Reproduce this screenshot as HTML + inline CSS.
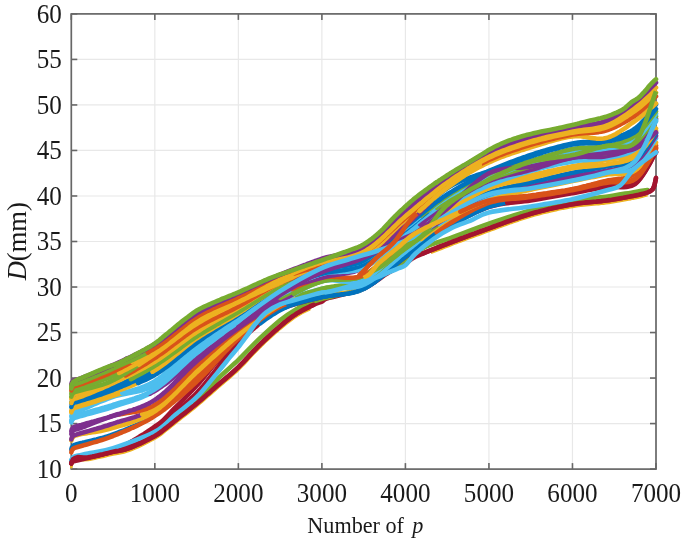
<!DOCTYPE html>
<html><head><meta charset="utf-8"><style>
html,body{margin:0;padding:0;background:#fff;width:685px;height:542px;overflow:hidden}
svg{display:block;font-family:"Liberation Serif",serif;filter:blur(0.4px)}
</style></head><body><svg width="685" height="542" viewBox="0 0 685 542"><g stroke="#e8e8e8" stroke-width="1.2"><line x1="154.83" y1="13.90" x2="154.83" y2="469.10"/><line x1="238.36" y1="13.90" x2="238.36" y2="469.10"/><line x1="321.89" y1="13.90" x2="321.89" y2="469.10"/><line x1="405.41" y1="13.90" x2="405.41" y2="469.10"/><line x1="488.94" y1="13.90" x2="488.94" y2="469.10"/><line x1="572.47" y1="13.90" x2="572.47" y2="469.10"/><line x1="71.30" y1="423.58" x2="656.00" y2="423.58"/><line x1="71.30" y1="378.06" x2="656.00" y2="378.06"/><line x1="71.30" y1="332.54" x2="656.00" y2="332.54"/><line x1="71.30" y1="287.02" x2="656.00" y2="287.02"/><line x1="71.30" y1="241.50" x2="656.00" y2="241.50"/><line x1="71.30" y1="195.98" x2="656.00" y2="195.98"/><line x1="71.30" y1="150.46" x2="656.00" y2="150.46"/><line x1="71.30" y1="104.94" x2="656.00" y2="104.94"/><line x1="71.30" y1="59.42" x2="656.00" y2="59.42"/></g><g stroke="#676767" stroke-width="1.6"><line x1="71.30" y1="469.10" x2="71.30" y2="463.10"/><line x1="71.30" y1="13.90" x2="71.30" y2="19.90"/><line x1="154.83" y1="469.10" x2="154.83" y2="463.10"/><line x1="154.83" y1="13.90" x2="154.83" y2="19.90"/><line x1="238.36" y1="469.10" x2="238.36" y2="463.10"/><line x1="238.36" y1="13.90" x2="238.36" y2="19.90"/><line x1="321.89" y1="469.10" x2="321.89" y2="463.10"/><line x1="321.89" y1="13.90" x2="321.89" y2="19.90"/><line x1="405.41" y1="469.10" x2="405.41" y2="463.10"/><line x1="405.41" y1="13.90" x2="405.41" y2="19.90"/><line x1="488.94" y1="469.10" x2="488.94" y2="463.10"/><line x1="488.94" y1="13.90" x2="488.94" y2="19.90"/><line x1="572.47" y1="469.10" x2="572.47" y2="463.10"/><line x1="572.47" y1="13.90" x2="572.47" y2="19.90"/><line x1="656.00" y1="469.10" x2="656.00" y2="463.10"/><line x1="656.00" y1="13.90" x2="656.00" y2="19.90"/><line x1="71.30" y1="469.10" x2="77.30" y2="469.10"/><line x1="656.00" y1="469.10" x2="650.00" y2="469.10"/><line x1="71.30" y1="423.58" x2="77.30" y2="423.58"/><line x1="656.00" y1="423.58" x2="650.00" y2="423.58"/><line x1="71.30" y1="378.06" x2="77.30" y2="378.06"/><line x1="656.00" y1="378.06" x2="650.00" y2="378.06"/><line x1="71.30" y1="332.54" x2="77.30" y2="332.54"/><line x1="656.00" y1="332.54" x2="650.00" y2="332.54"/><line x1="71.30" y1="287.02" x2="77.30" y2="287.02"/><line x1="656.00" y1="287.02" x2="650.00" y2="287.02"/><line x1="71.30" y1="241.50" x2="77.30" y2="241.50"/><line x1="656.00" y1="241.50" x2="650.00" y2="241.50"/><line x1="71.30" y1="195.98" x2="77.30" y2="195.98"/><line x1="656.00" y1="195.98" x2="650.00" y2="195.98"/><line x1="71.30" y1="150.46" x2="77.30" y2="150.46"/><line x1="656.00" y1="150.46" x2="650.00" y2="150.46"/><line x1="71.30" y1="104.94" x2="77.30" y2="104.94"/><line x1="656.00" y1="104.94" x2="650.00" y2="104.94"/><line x1="71.30" y1="59.42" x2="77.30" y2="59.42"/><line x1="656.00" y1="59.42" x2="650.00" y2="59.42"/><line x1="71.30" y1="13.90" x2="77.30" y2="13.90"/><line x1="656.00" y1="13.90" x2="650.00" y2="13.90"/></g><rect x="71.30" y="13.90" width="584.70" height="455.20" fill="none" stroke="#676767" stroke-width="1.7"/><g fill="none" stroke-linecap="round" stroke-linejoin="round"><path d="M71.3 467.3 L71.9 464.7 L73.1 461.9 L75.2 460.5 L78.3 459.8 L80.6 459.9 L83.5 460.3 L88.0 460.0 L89.9 459.7 L92.2 459.2 L94.7 458.7 L97.3 458.1 L100.1 457.5 L102.9 456.9 L105.7 456.2 L108.3 455.6 L110.8 455.0 L113.1 454.5 L116.3 453.9 L119.0 453.4 L121.5 452.9 L124.0 452.4 L126.8 451.6 L129.9 450.5 L131.9 449.7 L134.1 448.8 L136.5 447.8 L138.9 446.7 L141.4 445.5 L143.9 444.3 L146.3 443.1 L148.7 441.9 L150.9 440.7 L153.0 439.6 L154.8 438.6 L157.6 436.9 L159.9 435.4 L161.9 433.9 L163.6 432.5 L165.4 431.0 L167.4 429.5 L169.4 427.9 L171.4 426.3 L173.4 424.7 L175.4 423.1 L177.6 421.3 L179.9 419.5 L181.7 418.0 L183.7 416.5 L185.7 415.0 L187.7 413.4 L189.8 411.7 L192.0 410.0 L194.3 408.2 L196.6 406.3 L198.3 404.8 L200.1 403.3 L202.0 401.7 L203.9 400.0 L205.8 398.3 L207.7 396.6 L209.7 394.9 L211.7 393.2 L213.6 391.5 L215.6 389.7 L217.5 388.1 L219.4 386.4 L221.3 384.8 L223.2 383.2 L225.1 381.6 L227.0 380.0 L228.9 378.4 L230.8 376.8 L232.7 375.1 L234.6 373.4 L236.5 371.7 L238.4 369.9 L240.1 368.2 L241.8 366.4 L243.6 364.6 L245.3 362.8 L247.1 360.9 L248.8 359.0 L250.5 357.1 L252.3 355.2 L254.0 353.4 L255.8 351.5 L257.5 349.8 L259.2 348.0 L261.2 346.2 L263.1 344.3 L265.0 342.4 L267.0 340.6 L269.0 338.8 L270.9 337.0 L272.8 335.3 L274.7 333.6 L276.6 331.9 L278.4 330.4 L280.1 328.9 L282.4 327.0 L284.6 325.2 L286.7 323.5 L288.7 321.9 L290.7 320.4 L292.7 318.9 L294.8 317.5 L296.8 316.2 L299.3 314.7 L301.8 313.2 L304.4 311.9 L307.0 310.6 L309.4 309.5" stroke="#EDB120" stroke-width="2.6"/><path d="M430.9 252.9 L433.5 251.9 L436.1 250.8 L438.8 249.8 L441.6 248.7 L444.4 247.6 L447.2 246.5 L449.4 245.7 L451.6 244.8 L453.9 243.9 L456.3 243.0 L458.7 242.1 L461.1 241.2 L463.6 240.3 L466.1 239.4 L468.7 238.4 L471.2 237.5 L473.8 236.5 L476.3 235.6 L478.9 234.7 L481.4 233.7 L484.0 232.8 L486.5 231.9 L488.9 231.0 L491.4 230.1 L493.9 229.2 L496.3 228.3 L498.8 227.4 L501.2 226.5 L503.7 225.6 L506.1 224.7 L508.6 223.8 L511.1 222.9 L513.5 222.1 L516.0 221.2 L518.4 220.4 L520.9 219.5 L523.3 218.7 L525.8 217.9 L528.3 217.2 L530.7 216.5 L533.2 215.8 L535.7 215.1 L538.2 214.4 L540.7 213.7 L543.2 213.1 L545.8 212.5 L548.3 211.9 L550.9 211.3 L553.4 210.7 L555.9 210.2 L558.3 209.6 L560.8 209.1 L563.2 208.6 L565.6 208.2 L567.9 207.7 L570.2 207.3 L572.5 206.9 L575.3 206.4 L578.1 206.0 L580.8 205.7 L583.5 205.4 L586.1 205.1 L588.7 204.9 L591.2 204.7 L593.7 204.5 L596.2 204.3 L598.6 204.1 L601.1 203.8 L603.5 203.6 L605.9 203.3 L608.8 202.9 L611.7 202.4 L614.6 201.9 L617.5 201.5 L620.4 201.0 L623.2 200.5 L625.9 200.0 L628.5 199.5 L630.9 199.1 L633.1 198.6 L635.1 198.3 L638.9 197.5 L641.9 196.7 L644.3 196.0 L646.2 195.5 L647.6 195.1" stroke="#EDB120" stroke-width="2.6" stroke-linecap="butt"/><path d="M71.3 463.3 C71.6 462.6 72.0 460.2 73.1 459.2 C74.3 458.1 75.8 457.4 78.3 457.1 C80.8 456.8 82.2 458.1 88.0 457.3 C93.8 456.4 106.1 453.4 113.1 451.8 C120.1 450.2 123.0 450.5 129.9 447.8 C136.9 445.1 148.6 439.4 154.8 435.9 C161.1 432.4 163.2 430.0 167.4 426.8 C171.5 423.6 175.0 420.6 179.9 416.8 C184.8 412.9 190.3 408.8 196.6 403.6 C202.9 398.3 210.5 391.4 217.5 385.3 C224.4 379.3 231.4 373.8 238.4 367.1 C245.3 360.5 252.3 352.1 259.2 345.3 C266.2 338.5 273.9 331.5 280.1 326.2 C286.4 320.9 291.3 317.0 296.8 313.4 C302.4 309.9 309.4 306.7 313.5 304.8 C317.7 302.8 319.3 302.7 321.9 301.6 C324.5 300.4 322.0 300.1 329.0 297.9 C335.9 295.7 353.7 292.6 363.7 288.4 C373.6 284.1 381.7 276.6 388.7 272.5 C395.7 268.3 400.9 266.0 405.4 263.3 C410.0 260.7 409.1 259.8 416.0 256.5 C423.0 253.3 435.0 248.5 447.2 243.8 C459.3 239.1 475.0 233.3 488.9 228.3 C502.9 223.3 516.8 217.8 530.7 213.7 C544.6 209.7 559.9 206.4 572.5 204.2 C585.0 202.0 595.4 202.0 605.9 200.5 C616.3 199.1 628.2 196.9 635.1 195.5 C642.1 194.2 644.7 193.4 647.6 192.3 C650.6 191.3 651.5 190.5 652.7 189.2 C653.8 187.8 654.2 186.0 654.7 184.1 C655.3 182.2 655.8 178.8 656.0 177.8" stroke="#A2142F" stroke-width="4.6"/><path d="M71.3 460.9 C74.1 459.9 81.0 456.9 88.0 455.0 C95.0 453.1 101.9 453.1 113.1 449.5 C124.2 446.0 144.4 439.0 154.8 433.6 C165.3 428.2 168.8 422.8 175.7 417.2 C182.7 411.6 189.6 406.3 196.6 399.9 C203.6 393.5 210.5 385.6 217.5 379.0 C224.4 372.3 231.4 366.5 238.4 359.9 C245.3 353.2 252.3 345.5 259.2 338.9 C266.2 332.3 273.9 325.3 280.1 320.2 C286.4 315.2 292.2 311.6 296.8 308.9 C301.4 306.1 303.5 305.5 307.7 303.9 C311.9 302.2 312.6 301.7 321.9 298.9 C331.2 296.0 349.7 293.5 363.7 287.0 C377.6 280.5 395.0 266.5 405.4 259.7 C415.9 253.0 419.3 249.9 426.3 246.5 C433.3 243.1 436.7 243.0 447.2 239.2 C457.6 235.4 475.0 228.6 488.9 223.7 C502.9 218.9 516.8 214.0 530.7 210.1 C544.6 206.2 559.9 202.7 572.5 200.5 C585.0 198.3 595.4 198.3 605.9 196.9 C616.3 195.4 628.2 193.0 635.1 191.9 C642.1 190.7 645.6 190.4 647.6 190.1" stroke="#77AC30" stroke-width="4.6"/><path d="M71.3 461.8 C78.3 460.1 100.5 455.6 113.1 451.3 C125.6 447.1 139.5 440.0 146.5 436.3 C153.4 432.6 150.0 433.9 154.8 429.0 C159.7 424.2 168.8 414.4 175.7 407.2 C182.7 400.0 189.6 393.5 196.6 385.8 C203.6 378.1 210.5 368.6 217.5 360.8 C224.4 352.9 231.4 345.7 238.4 338.9 C245.3 332.1 252.3 324.8 259.2 319.8 C266.2 314.8 269.7 312.7 280.1 308.9 C290.6 305.1 308.0 300.4 321.9 297.0 C335.8 293.7 349.7 295.5 363.7 288.8 C377.6 282.2 391.5 267.1 405.4 257.0 C419.3 246.8 433.3 236.2 447.2 227.8 C461.1 219.5 475.0 211.5 488.9 206.9 C502.9 202.4 516.8 202.8 530.7 200.5 C544.6 198.3 559.9 195.5 572.5 193.2 C585.0 191.0 595.4 188.4 605.9 186.9 C616.3 185.4 626.8 189.9 635.1 184.1 C643.5 178.4 652.5 157.6 656.0 152.3" stroke="#A2142F" stroke-width="4.6"/><path d="M71.3 463.6 L71.8 461.9 L73.4 459.8 L74.7 459.0 L76.7 458.4 L81.3 457.3 L83.1 456.9 L85.1 456.6 L87.3 456.4 L89.8 456.1 L92.4 455.8 L95.1 455.4 L97.9 455.0 L100.9 454.5 L103.9 453.8 L106.9 453.0 L110.0 452.1 L113.1 450.9 L115.0 450.0 L117.0 449.1 L119.1 448.1 L121.2 447.1 L123.3 446.0 L125.5 444.8 L127.7 443.6 L129.9 442.4 L132.2 441.1 L134.5 439.7 L136.7 438.4 L139.0 437.0 L141.3 435.5 L143.6 434.1 L145.9 432.6 L148.1 431.1 L150.4 429.6 L152.6 428.1 L154.8 426.5 L156.8 425.2 L158.8 423.8 L160.8 422.4 L162.8 421.0 L164.8 419.6 L166.8 418.1 L168.8 416.7 L170.7 415.2 L172.7 413.7 L174.7 412.2 L176.7 410.7 L178.7 409.1 L180.7 407.5 L182.7 405.8 L184.7 404.2 L186.6 402.4 L188.6 400.7 L190.6 398.8 L192.6 397.0 L194.6 395.1 L196.6 393.1 L198.2 391.4 L199.8 389.7 L201.4 387.9 L203.0 386.1 L204.6 384.2 L206.2 382.2 L207.8 380.2 L209.4 378.2 L211.0 376.1 L212.7 374.1 L214.3 372.0 L215.9 369.9 L217.5 367.7 L219.1 365.6 L220.7 363.5 L222.3 361.4 L223.9 359.4 L225.5 357.3 L227.1 355.3 L228.7 353.3 L230.3 351.4 L231.9 349.5 L233.5 347.7 L235.1 345.9 L236.8 344.2 L238.4 342.6 L240.3 340.6 L242.3 338.7 L244.3 336.8 L246.3 335.0 L248.3 333.2 L250.3 331.4 L252.3 329.7 L254.3 328.1 L256.3 326.4 L258.2 324.8" stroke="#A2142F" stroke-width="4.6"/><path d="M260.2 323.3 L262.2 321.8 L264.2 320.3 L266.2 318.9 L268.2 317.5 L270.2 316.2 L272.2 314.9 L274.2 313.7 L276.1 312.5 L278.1 311.3 L280.1 310.2 L282.6 309.0 L285.0 307.8 L287.5 306.7 L289.9 305.7 L292.4 304.8 L294.9 304.0 L297.3 303.2 L299.8 302.5 L302.2 301.8 L304.7 301.2 L307.1 300.5 L309.6 300.0 L312.1 299.4 L314.5 298.8 L317.0 298.2 L319.4 297.6 L321.9 297.0 L324.3 296.5 L326.8 296.0 L329.3 295.6 L331.7 295.3 L334.2 295.0 L336.6 294.8 L339.1 294.5 L341.5 294.3 L344.0 294.0 L346.5 293.7 L348.9 293.4 L351.4 292.9 L353.8 292.4 L356.3 291.7 L358.7 291.0 L361.2 290.0 L363.7 288.9 L365.6 287.9 L367.6 286.8 L369.6 285.6 L371.6 284.2 L373.6 282.8 L375.6 281.3 L377.6 279.8 L379.6 278.2 L381.5 276.6 L383.5 274.9 L385.5 273.2 L387.5 271.5 L389.5 269.7 L391.5 268.0 L393.5 266.3 L395.5 264.6 L397.5 262.9 L399.4 261.2 L401.4 259.6 L403.4 258.1 L405.4 256.6 L407.5 255.1 L409.6 253.6 L411.7 252.1 L413.8 250.6 L415.9 249.1 L417.9 247.6 L420.0 246.1 L422.1 244.7 L424.2 243.2 L426.3 241.8 L428.4 240.3 L430.5 238.9 L432.6 237.5 L434.6 236.2 L436.7 234.8 L438.8 233.5 L440.9 232.1 L443.0 230.8 L445.1 229.6 L447.2 228.3 L449.5 226.9 L451.8 225.5 L454.1 224.2 L456.5 222.8 L458.8 221.5 L461.1 220.1 L463.4 218.8 L465.7 217.5 L468.1 216.3 L470.4 215.1 L472.7 213.9 L475.0 212.7 L477.3 211.6 L479.7 210.6 L482.0 209.6 L484.3 208.6 L486.6 207.7 L488.9 206.9 L491.6 206.1 L494.2 205.3 L496.8 204.7 L499.4 204.1 L502.0 203.6 L504.6 203.1" stroke="#0072BD" stroke-width="4.6"/><path d="M507.2 202.7 L509.8 202.3 L512.4 202.0 L515.0 201.7 L517.7 201.3 L520.3 201.0 L522.9 200.7 L525.5 200.3 L528.1 200.0 L530.7 199.5 L533.3 199.1 L536.0 198.6 L538.7 198.2 L541.3 197.7 L544.0 197.3 L546.7 196.8 L549.4 196.4 L552.1 195.9 L554.8 195.5 L557.4 195.0 L560.0 194.6 L562.6 194.1 L565.2 193.7 L567.7 193.3 L570.1 192.9 L572.5 192.4 L575.3 191.9 L578.1 191.4 L580.8 190.8 L583.5 190.3 L586.1 189.8 L588.7 189.2 L591.2 188.7 L593.7 188.2 L596.2 187.7 L598.6 187.3 L601.1 186.8 L603.5 186.4 L605.9 186.1 L608.7 185.8 L611.6 185.7 L614.4 185.8 L617.2 186.0 L619.9 186.1 L622.6 186.2 L625.3 186.2 L627.9 186.0 L630.4 185.4 L632.8 184.5 L635.1 183.2 L636.8 181.9 L638.5 180.2 L640.2 178.3 L641.8 176.1 L643.5 173.7 L645.1 171.3 L646.6 168.7 L648.1 166.1 L649.6 163.6 L650.9 161.1 L652.1 158.8 L653.3 156.6 L654.3 154.7 L655.2 153.2 L656.0 151.9" stroke="#A2142F" stroke-width="4.6"/><path d="M71.3 449.4 L71.8 447.7 L73.4 445.6 L74.7 444.9 L76.7 444.3 L81.3 443.1 L83.0 442.6 L84.8 442.2 L86.8 441.7 L89.0 441.2 L91.3 440.7 L93.8 440.1 L96.4 439.5 L99.0 438.8 L101.8 438.1 L104.6 437.3 L107.4 436.4 L110.2 435.5 L113.1 434.4 L115.1 433.6 L117.3 432.8 L119.4 432.0 L121.7 431.1 L123.9 430.3 L126.2 429.4 L128.6 428.4 L130.9 427.4 L133.3 426.4 L135.7 425.4 L138.1 424.3 L140.5 423.1 L142.9 421.9 L145.4 420.6 L147.8 419.3" stroke="#0072BD" stroke-width="4.6"/><path d="M147.8 419.3 L150.1 417.9 L152.5 416.4 L154.8 414.8 L156.7 413.5 L158.6 412.1 L160.5 410.7 L162.4 409.2 L164.3 407.6 L166.2 406.0 L168.1 404.3 L170.0 402.7 L171.9 400.9 L173.8 399.2 L175.7 397.4 L177.6 395.6 L179.5 393.8 L181.4 392.0 L183.3 390.1 L185.2 388.3 L187.1 386.4 L189.0 384.6 L190.9 382.8 L192.8 381.0 L194.7 379.2 L196.6 377.4 L198.4 375.7 L200.2 373.9 L202.0 372.2 L203.9 370.4 L205.7 368.6 L207.5 366.8 L209.3 365.0 L211.1 363.2 L212.9 361.4 L214.8 359.5 L216.6 357.7 L218.4 355.9 L220.2 354.1 L222.0 352.3 L223.8 350.5 L225.6 348.7 L227.5 346.9 L229.3 345.2 L231.1 343.5 L232.9 341.8 L234.7 340.2 L236.5 338.5 L238.4 337.0 L240.4 335.2 L242.5 333.4 L244.6 331.6 L246.7 329.8 L248.8 328.0 L250.9 326.3 L253.0 324.5 L255.1 322.8 L257.2 321.1 L259.2 319.5 L261.3 317.9 L263.4 316.3 L265.5 314.8 L267.6 313.3 L269.7 311.9 L271.8 310.5 L273.9 309.2 L275.9 307.9 L278.0 306.8 L280.1 305.6 L282.6 304.5 L285.0 303.4 L287.5 302.4 L289.9 301.5 L292.4 300.7 L294.9 300.0 L297.3 299.3" stroke="#D95319" stroke-width="4.6"/><path d="M299.8 298.7 L302.2 298.1 L304.7 297.6 L307.1 297.1 L309.6 296.6 L312.1 296.2 L314.5 295.7 L317.0 295.3 L319.4 294.8 L321.9 294.3 L324.5 293.8 L327.1 293.5 L329.7 293.3 L332.3 293.1 L334.9 293.0 L337.5 293.0 L340.2 292.9 L342.8 292.9 L345.4 292.7 L348.0 292.5 L350.6 292.2 L353.2 291.8 L355.8 291.2 L358.4 290.5 L361.0 289.5 L363.7 288.3 L365.5 287.3 L367.4 286.1 L369.3 284.8 L371.2 283.5 L373.1 282.0 L375.0 280.4 L376.9 278.8 L378.8 277.1 L380.7 275.4 L382.6 273.6 L384.5 271.7 L386.4 269.9 L388.3 268.0 L390.2 266.1 L392.1 264.2 L394.0 262.4 L395.9 260.5 L397.8 258.7 L399.7 257.0 L401.6 255.3 L403.5 253.6 L405.4 252.1 L407.5 250.4 L409.6 248.7 L411.7 247.0 L413.8 245.4 L415.9 243.7 L417.9 242.0 L420.0 240.4 L422.1 238.8 L424.2 237.1 L426.3 235.5 L428.4 234.0" stroke="#EDB120" stroke-width="4.6"/><path d="M428.4 234.0 L430.5 232.4 L432.6 230.9 L434.6 229.4 L436.7 227.9 L438.8 226.5 L440.9 225.1 L443.0 223.7 L445.1 222.4 L447.2 221.1 L449.5 219.7 L451.8 218.4 L454.1 217.0 L456.5 215.7 L458.8 214.4 L461.1 213.2 L463.4 212.0 L465.7 210.8 L468.1 209.7 L470.4 208.6 L472.7 207.6 L475.0 206.6 L477.3 205.6 L479.7 204.7 L482.0 203.8 L484.3 203.0 L486.6 202.2 L488.9 201.4 L491.6 200.7 L494.2 200.0 L496.8 199.5 L499.4 199.0 L502.0 198.6 L504.6 198.2 L507.2 197.9 L509.8 197.6 L512.4 197.4 L515.0 197.1 L517.7 196.9 L520.3 196.6 L522.9 196.4 L525.5 196.1 L528.1 195.8 L530.7 195.4 L533.3 195.0 L536.0 194.7 L538.7 194.3 L541.3 193.9 L544.0 193.5 L546.7 193.2 L549.4 192.8 L552.1 192.4 L554.8 192.0 L557.4 191.6 L560.0 191.2 L562.6 190.8 L565.2 190.4 L567.7 189.9 L570.1 189.5 L572.5 189.1 L575.3 188.5 L578.1 187.9 L580.8 187.3 L583.5 186.6 L586.1 186.0 L588.7 185.3 L591.2 184.7 L593.7 184.0 L596.2 183.4 L598.6 182.7 L601.1 182.1 L603.5 181.5 L605.9 180.9 L608.5 180.3 L611.1 179.9 L613.7 179.5 L616.2 179.2 L618.8 178.9 L621.3 178.6 L623.7 178.2 L626.1 177.6 L628.5 177.0 L630.8 176.1 L633.0 175.1 L635.1 173.8 L637.1 172.2 L639.0 170.3 L640.9 168.2 L642.8 165.8 L644.7 163.2 L646.5 160.6 L648.2 158.0 L649.9 155.4 L651.4 153.0 L652.8 150.7 L654.0 148.7 L655.1 147.0 L656.0 145.7" stroke="#D95319" stroke-width="4.6"/><path d="M71.3 452.3 L71.8 450.6 L73.4 448.5 L74.7 447.9 L76.7 447.3 L81.3 446.0 L83.0 445.5 L84.8 444.9 L86.8 444.4 L89.0 443.8 L91.3 443.1 L93.8 442.4 L96.4 441.7 L99.0 440.9 L101.8 440.0 L104.6 439.1 L107.4 438.1 L110.2 437.1 L113.1 436.0 L115.1 435.1 L117.3 434.3 L119.4 433.4 L121.7 432.5 L123.9 431.5 L126.2 430.6 L128.6 429.6 L130.9 428.5 L133.3 427.5" stroke="#D95319" stroke-width="4.6"/><path d="M133.3 427.5 L135.7 426.4 L138.1 425.2 L140.5 424.0 L142.9 422.8 L145.4 421.5 L147.8 420.2 L150.1 418.8 L152.5 417.4 L154.8 415.9 L156.8 414.6 L158.8 413.3 L160.8 411.9 L162.8 410.4 L164.8 409.0 L166.8 407.4 L168.8 405.9 L170.7 404.3 L172.7 402.7 L174.7 401.1 L176.7 399.4 L178.7 397.7 L180.7 396.0 L182.7 394.3 L184.7 392.5 L186.6 390.8 L188.6 389.0 L190.6 387.2 L192.6 385.4 L194.6 383.5 L196.6 381.7 L198.3 380.1 L200.1 378.4 L201.8 376.7 L203.6 374.9 L205.3 373.1 L207.0 371.3 L208.8 369.4 L210.5 367.6 L212.3 365.7 L214.0 363.8 L215.7 361.9 L217.5 360.0 L219.2 358.1 L221.0 356.2 L222.7 354.3 L224.4 352.4 L226.2 350.6 L227.9 348.8 L229.7 347.0 L231.4 345.2 L233.1 343.5 L234.9 341.8 L236.6 340.1 L238.4 338.5 L240.3 336.8 L242.3 335.0 L244.3 333.2 L246.3 331.4 L248.3 329.7 L250.3 328.0 L252.3 326.3 L254.3 324.6 L256.3 322.9 L258.2 321.3 L260.2 319.7 L262.2 318.2 L264.2 316.7 L266.2 315.2 L268.2 313.8 L270.2 312.5 L272.2 311.2 L274.2 310.0 L276.1 308.8 L278.1 307.7 L280.1 306.7 L282.6 305.5 L285.0 304.5 L287.5 303.6" stroke="#D95319" stroke-width="4.6"/><path d="M287.5 303.6 L289.9 302.9 L292.4 302.2 L294.9 301.6 L297.3 301.1 L299.8 300.6 L302.2 300.2 L304.7 299.8 L307.1 299.5 L309.6 299.1 L312.1 298.8 L314.5 298.4 L317.0 298.0 L319.4 297.5 L321.9 297.0 L324.3 296.5 L326.8 296.1 L329.3 295.8 L331.7 295.5 L334.2 295.2 L336.6 294.9 L339.1 294.7 L341.5 294.4 L344.0 294.1 L346.5 293.7 L348.9 293.3 L351.4 292.8 L353.8 292.2 L356.3 291.5 L358.7 290.7 L361.2 289.7 L363.7 288.6 L365.6 287.6 L367.6 286.5 L369.6 285.3 L371.6 284.0 L373.6 282.6 L375.6 281.1 L377.6 279.6 L379.6 278.0 L381.5 276.4 L383.5 274.8 L385.5 273.1 L387.5 271.4 L389.5 269.7 L391.5 268.0 L393.5 266.3 L395.5 264.5 L397.5 262.9 L399.4 261.2 L401.4 259.6 L403.4 258.0 L405.4 256.4 L407.5 254.8 L409.6 253.2 L411.7 251.6 L413.8 250.0 L415.9 248.3 L417.9 246.7 L420.0 245.0 L422.1 243.4 L424.2 241.8 L426.3 240.1 L428.4 238.5 L430.5 236.9 L432.6 235.4 L434.6 233.8" stroke="#0072BD" stroke-width="4.6"/><path d="M436.7 232.3 L438.8 230.8 L440.9 229.3 L443.0 227.9 L445.1 226.5 L447.2 225.1 L449.5 223.6 L451.8 222.2 L454.1 220.7 L456.5 219.3 L458.8 217.8 L461.1 216.4 L463.4 215.1 L465.7 213.7 L468.1 212.4 L470.4 211.2 L472.7 209.9 L475.0 208.8 L477.3 207.6 L479.7 206.6 L482.0 205.6 L484.3 204.6 L486.6 203.7 L488.9 202.9 L491.6 202.1 L494.2 201.4 L496.8 200.8 L499.4 200.3 L502.0 199.9 L504.6 199.5 L507.2 199.2 L509.8 199.0 L512.4 198.8 L515.0 198.6 L517.7 198.4 L520.3 198.1 L522.9 197.9 L525.5 197.7 L528.1 197.3 L530.7 197.0 L533.3 196.6 L536.0 196.2 L538.7 195.8 L541.3 195.3 L544.0 194.9 L546.7 194.5 L549.4 194.1 L552.1 193.7 L554.8 193.2 L557.4 192.8 L560.0 192.4 L562.6 191.9 L565.2 191.5 L567.7 191.0 L570.1 190.6 L572.5 190.2 L575.3 189.6 L578.1 189.0 L580.8 188.4 L583.5 187.8 L586.1 187.2 L588.7 186.6 L591.2 186.0 L593.7 185.4 L596.2 184.9 L598.6 184.3 L601.1 183.8 L603.5 183.3 L605.9 182.9 L608.7 182.5 L611.6 182.3 L614.4 182.3 L617.2 182.4 L619.9 182.4 L622.6 182.4 L625.3 182.3 L627.9 182.0 L630.4 181.4 L632.8 180.5 L635.1 179.1 L636.9 177.7 L638.7 175.9 L640.5 173.9 L642.3 171.5 L644.0 169.0 L645.7 166.4 L647.4 163.7 L648.9 161.1 L650.4 158.5 L651.8 156.0 L653.1 153.8 L654.2 151.8 L655.2 150.1 L656.0 148.8" stroke="#D95319" stroke-width="4.6"/><path d="M71.3 440.5 L71.8 438.8 L73.4 436.7 L74.7 435.9 L76.7 435.2 L81.3 434.1 L83.1 433.8 L85.1 433.4 L87.3 433.1 L89.8 432.7 L92.4 432.3 L95.1 431.9 L97.9 431.4 L100.9 430.9 L103.9 430.3 L106.9 429.6 L110.0 428.8 L113.1 427.9 L115.3 427.2 L117.5 426.6 L119.8 425.9 L122.2 425.2 L124.6 424.5 L127.1 423.7" stroke="#EDB120" stroke-width="4.6"/><path d="M127.1 423.7 L129.5 422.9 L132.1 422.1 L134.6 421.2 L137.1 420.2 L139.7 419.2 L142.2 418.1 L144.8 417.0 L147.3 415.7 L149.9 414.3 L152.4 412.9 L154.8 411.3 L156.7 410.0 L158.6 408.6 L160.5 407.1 L162.4 405.5 L164.3 403.9 L166.2 402.2 L168.1 400.4 L170.0 398.6 L171.9 396.8 L173.8 394.9 L175.7 393.0 L177.6 391.1 L179.5 389.2 L181.4 387.2 L183.3 385.3 L185.2 383.3 L187.1 381.4 L189.0 379.5 L190.9 377.6 L192.8 375.8 L194.7 374.0 L196.6 372.2 L198.5 370.5 L200.4 368.8 L202.3 367.0 L204.2 365.3 L206.1 363.6 L208.0 361.9 L209.9 360.1 L211.8 358.4 L213.7 356.7 L215.6 355.0 L217.5 353.3 L219.4 351.6 L221.3 349.9 L223.2 348.3 L225.1 346.6 L227.0 344.9 L228.9 343.3 L230.8 341.7 L232.7 340.1 L234.6 338.5 L236.5 336.9 L238.4 335.4 L240.4 333.7 L242.5 332.0 L244.6 330.3 L246.7 328.6 L248.8 326.9 L250.9 325.2 L253.0 323.6 L255.1 321.9 L257.2 320.3 L259.2 318.7 L261.3 317.1 L263.4 315.6 L265.5 314.0 L267.6 312.5 L269.7 311.1 L271.8 309.7 L273.9 308.4 L275.9 307.1 L278.0 305.8 L280.1 304.6 L282.6 303.3 L285.0 302.0" stroke="#EDB120" stroke-width="4.6"/><path d="M285.0 302.0 L287.5 300.8 L289.9 299.6 L292.4 298.5 L294.9 297.5 L297.3 296.5 L299.8 295.5 L302.2 294.6 L304.7 293.8 L307.1 292.9 L309.6 292.2 L312.1 291.4 L314.5 290.7 L317.0 290.1 L319.4 289.4 L321.9 288.8 L324.5 288.3 L327.1 288.0 L329.7 287.8 L332.3 287.7 L334.9 287.7 L337.5 287.7 L340.2 287.8 L342.8 287.9 L345.4 287.9 L348.0 287.9 L350.6 287.8 L353.2 287.5 L355.8 287.1 L358.4 286.6 L361.0 285.8 L363.7 284.7 L365.6 283.8 L367.6 282.7 L369.6 281.6 L371.6 280.3 L373.6 278.9 L375.6 277.4 L377.6 275.9 L379.6 274.3 L381.5 272.6 L383.5 270.9 L385.5 269.2 L387.5 267.4 L389.5 265.6 L391.5 263.8 L393.5 262.0 L395.5 260.3 L397.5 258.5 L399.4 256.8 L401.4 255.1 L403.4 253.5 L405.4 251.9 L407.4 250.3 L409.4 248.7 L411.4 247.2 L413.4 245.5 L415.4 243.9 L417.3 242.3 L419.3 240.7 L421.3 239.1" stroke="#4DBEEE" stroke-width="4.6"/><path d="M421.3 239.1 L423.3 237.4 L425.3 235.8 L427.3 234.2 L429.3 232.7 L431.3 231.1 L433.3 229.6 L435.2 228.1 L437.2 226.6 L439.2 225.2 L441.2 223.8 L443.2 222.4 L445.2 221.1 L447.2 219.8 L449.5 218.4 L451.8 217.0 L454.1 215.7 L456.5 214.4 L458.8 213.2 L461.1 212.0 L463.4 210.8 L465.7 209.7 L468.1 208.5 L470.4 207.5 L472.7 206.4 L475.0 205.4 L477.3 204.5 L479.7 203.5 L482.0 202.6 L484.3 201.7 L486.6 200.8 L488.9 200.0 L491.4 199.1 L493.9 198.3 L496.3 197.6 L498.8 196.9 L501.2 196.2 L503.7 195.6 L506.1 195.0 L508.6 194.4 L511.1 193.9 L513.5 193.3 L516.0 192.8 L518.4 192.3 L520.9 191.8 L523.3 191.3 L525.8 190.8 L528.3 190.2 L530.7 189.7 L533.2 189.1 L535.7 188.6 L538.2 188.0 L540.7 187.5 L543.2 187.0 L545.8 186.4 L548.3 185.9 L550.9 185.4 L553.4 184.9 L555.9 184.4 L558.3 183.9 L560.8 183.4 L563.2 182.9 L565.6 182.4 L567.9 182.0 L570.2 181.5 L572.5 181.0 L575.3 180.5 L578.1 179.9 L580.8 179.4 L583.5 178.8 L586.1 178.3 L588.7 177.8 L591.2 177.3 L593.7 176.9 L596.2 176.4 L598.6 176.0 L601.1 175.5 L603.5 175.1 L605.9 174.7 L608.7 174.3 L611.6 174.1 L614.4 174.0 L617.2 174.0 L619.9 174.0 L622.6 173.9 L625.3 173.7 L627.9 173.3 L630.4 172.7 L632.8 171.8 L635.1 170.5 L637.1 169.0 L639.0 167.2 L640.9 165.1 L642.8 162.7 L644.7 160.2 L646.5 157.6 L648.2 155.0 L649.9 152.4 L651.4 149.9 L652.8 147.6 L654.0 145.6 L655.1 143.9 L656.0 142.6" stroke="#EDB120" stroke-width="4.6"/><path d="M71.3 439.4 L71.8 437.7 L73.4 435.6 L74.7 434.9 L76.7 434.4 L81.3 433.0 L83.0 432.6 L84.8 432.0 L86.8 431.5 L89.0 430.9 L91.3 430.2 L93.8 429.5 L96.4 428.8 L99.0 428.0 L101.8 427.2 L104.6 426.3 L107.4 425.5 L110.2 424.5 L113.1 423.6 L115.3 422.9 L117.5 422.1 L119.8 421.5 L122.2 420.8 L124.6 420.1 L127.1 419.4 L129.5 418.7 L132.1 417.9 L134.6 417.1 L137.1 416.2 L139.7 415.3" stroke="#7E2F8E" stroke-width="4.6"/><path d="M142.2 414.3 L144.8 413.2 L147.3 412.0 L149.9 410.7 L152.4 409.3 L154.8 407.7 L156.7 406.4 L158.6 405.1 L160.5 403.6 L162.4 402.0 L164.3 400.4 L166.2 398.7 L168.1 397.0 L170.0 395.2 L171.9 393.3 L173.8 391.5 L175.7 389.6 L177.6 387.6 L179.5 385.7 L181.4 383.8 L183.3 381.8 L185.2 379.9 L187.1 378.0 L189.0 376.1 L190.9 374.2 L192.8 372.4 L194.7 370.7 L196.6 369.0 L198.6 367.2 L200.6 365.4 L202.6 363.7 L204.5 362.0 L206.5 360.2 L208.5 358.5 L210.5 356.8 L212.5 355.1 L214.5 353.4 L216.5 351.7 L218.5 350.0 L220.5 348.3 L222.4 346.7 L224.4 345.0 L226.4 343.4 L228.4 341.8 L230.4 340.1 L232.4 338.5 L234.4 337.0 L236.4 335.4 L238.4 333.8 L240.4 332.2 L242.5 330.5 L244.6 328.9 L246.7 327.2 L248.8 325.5 L250.9 323.9 L253.0 322.2 L255.1 320.6 L257.2 319.0 L259.2 317.4 L261.3 315.9 L263.4 314.3 L265.5 312.8 L267.6 311.3 L269.7 309.9 L271.8 308.5 L273.9 307.2 L275.9 305.9 L278.0 304.7 L280.1 303.6 L282.6 302.3 L285.0 301.1 L287.5 300.0 L289.9 298.9 L292.4 297.9 L294.9 297.0 L297.3 296.1" stroke="#EDB120" stroke-width="4.6"/><path d="M297.3 296.1 L299.8 295.3 L302.2 294.5 L304.7 293.7 L307.1 293.0 L309.6 292.3 L312.1 291.6 L314.5 290.9 L317.0 290.2 L319.4 289.5 L321.9 288.8 L324.3 288.2 L326.8 287.6 L329.3 287.2 L331.7 286.8 L334.2 286.4 L336.6 286.1 L339.1 285.8 L341.5 285.5 L344.0 285.2 L346.5 284.8 L348.9 284.4 L351.4 283.9 L353.8 283.3 L356.3 282.6 L358.7 281.8 L361.2 280.8 L363.7 279.7 L365.7 278.7 L367.8 277.5 L369.9 276.2 L372.0 274.9 L374.1 273.4 L376.2 271.9 L378.3 270.3 L380.4 268.7 L382.4 267.0 L384.5 265.3 L386.6 263.6 L388.7 261.8 L390.8 260.1 L392.9 258.3 L395.0 256.6 L397.1 254.9 L399.1 253.2 L401.2 251.5 L403.3 249.9 L405.4 248.3 L407.5 246.8 L409.6 245.3 L411.7 243.7 L413.8 242.2 L415.9 240.6 L417.9 239.1 L420.0 237.5 L422.1 236.0 L424.2 234.4 L426.3 232.9 L428.4 231.4 L430.5 229.9 L432.6 228.4 L434.6 226.9 L436.7 225.5 L438.8 224.0" stroke="#77AC30" stroke-width="4.6"/><path d="M438.8 224.0 L440.9 222.6 L443.0 221.3 L445.1 219.9 L447.2 218.6 L449.4 217.2 L451.6 215.8 L453.8 214.4 L456.0 213.0 L458.2 211.6 L460.4 210.3 L462.6 208.9 L464.8 207.6 L467.0 206.3 L469.2 205.1 L471.4 203.8 L473.6 202.6 L475.8 201.5 L478.0 200.4 L480.2 199.3 L482.3 198.3 L484.5 197.4 L486.7 196.5 L488.9 195.6 L491.6 194.7 L494.2 193.9 L496.8 193.2 L499.4 192.6 L502.0 192.1 L504.6 191.7 L507.2 191.3 L509.8 190.9 L512.4 190.5 L515.0 190.2 L517.7 189.9 L520.3 189.6 L522.9 189.2 L525.5 188.9 L528.1 188.5 L530.7 188.0 L533.2 187.6 L535.7 187.1 L538.2 186.6 L540.7 186.1 L543.2 185.7 L545.8 185.2 L548.3 184.7 L550.9 184.2 L553.4 183.7 L555.9 183.2 L558.3 182.8 L560.8 182.3 L563.2 181.8 L565.6 181.3 L567.9 180.9 L570.2 180.4 L572.5 180.0 L575.3 179.4 L578.1 178.8 L580.8 178.2 L583.5 177.6 L586.1 177.1 L588.7 176.5 L591.2 175.9 L593.7 175.4 L596.2 174.8 L598.6 174.3 L601.1 173.8 L603.5 173.3 L605.9 172.8 L608.7 172.3 L611.6 172.0 L614.4 171.8 L617.2 171.6 L619.9 171.4 L622.6 171.2 L625.3 170.9 L627.9 170.4 L630.4 169.6 L632.8 168.6 L635.1 167.2 L636.9 165.8 L638.7 164.1 L640.5 162.0 L642.3 159.8 L644.0 157.4 L645.7 154.9 L647.4 152.4 L648.9 149.9 L650.4 147.4 L651.8 145.1 L653.1 143.0 L654.2 141.1 L655.2 139.5 L656.0 138.3" stroke="#4DBEEE" stroke-width="4.6"/><path d="M71.3 434.1 L71.8 432.4 L73.4 430.3 L74.7 429.7 L76.7 429.3 L81.3 427.8 L83.0 427.2 L84.8 426.5 L86.8 425.7 L89.0 424.8 L91.3 423.9 L93.8 422.9 L96.4 421.9 L99.0 420.9 L101.8 419.8 L104.6 418.8 L107.4 417.8 L110.2 416.8 L113.1 415.9 L115.3 415.3 L117.5 414.8 L119.8 414.3" stroke="#7E2F8E" stroke-width="4.6"/><path d="M119.8 414.3 L122.2 413.9 L124.6 413.5 L127.1 413.1 L129.5 412.7 L132.1 412.3 L134.6 411.9 L137.1 411.4 L139.7 410.8 L142.2 410.1 L144.8 409.4 L147.3 408.5 L149.9 407.4 L152.4 406.2 L154.8 404.8 L156.7 403.6 L158.6 402.3 L160.5 400.9 L162.4 399.4 L164.3 397.8 L166.2 396.1 L168.1 394.3 L170.0 392.5 L171.9 390.7 L173.8 388.8 L175.7 386.8 L177.6 384.9 L179.5 382.9 L181.4 380.9 L183.3 378.9 L185.2 376.9 L187.1 374.9 L189.0 373.0 L190.9 371.1 L192.8 369.2 L194.7 367.4 L196.6 365.7 L198.5 364.0 L200.4 362.2 L202.3 360.5 L204.2 358.8 L206.1 357.1 L208.0 355.3 L209.9 353.6 L211.8 351.9 L213.7 350.2 L215.6 348.5 L217.5 346.8 L219.4 345.1 L221.3 343.5 L223.2 341.8 L225.1 340.2 L227.0 338.6 L228.9 337.0 L230.8 335.4 L232.7 333.9 L234.6 332.4 L236.5 330.9 L238.4 329.4 L240.6 327.8 L242.8 326.2 L245.0 324.6 L247.1 323.1 L249.3 321.6 L251.5 320.1 L253.7 318.6 L255.9 317.2 L258.1 315.7 L260.3 314.4 L262.5 313.0 L264.7 311.6 L266.9 310.3 L269.1 309.0 L271.3 307.7 L273.5 306.4 L275.7 305.1 L277.9 303.8 L280.1 302.5 L282.4 301.2" stroke="#D95319" stroke-width="4.6"/><path d="M282.4 301.2 L284.8 299.8 L287.1 298.4 L289.4 297.1 L291.7 295.7 L294.0 294.3 L296.4 293.0 L298.7 291.6 L301.0 290.3 L303.3 289.1 L305.6 287.9 L308.0 286.7 L310.3 285.6 L312.6 284.6 L314.9 283.7 L317.2 282.8 L319.6 282.0 L321.9 281.3 L324.5 280.8 L327.1 280.4 L329.7 280.3 L332.3 280.3 L334.9 280.5 L337.5 280.8 L340.2 281.1 L342.8 281.4 L345.4 281.7 L348.0 281.9 L350.6 282.0 L353.2 282.0 L355.8 281.8 L358.4 281.4 L361.0 280.7 L363.7 279.7 L365.6 278.8 L367.6 277.7 L369.6 276.4 L371.6 275.1 L373.6 273.6 L375.6 272.0 L377.6 270.3 L379.6 268.5 L381.5 266.7 L383.5 264.8 L385.5 262.9 L387.5 261.0 L389.5 259.0 L391.5 257.1 L393.5 255.2 L395.5 253.3 L397.5 251.5 L399.4 249.7 L401.4 248.0 L403.4 246.3 L405.4 244.8 L407.5 243.2 L409.6 241.7 L411.7 240.2 L413.8 238.7 L415.9 237.3 L417.9 235.8 L420.0 234.4 L422.1 233.0 L424.2 231.7 L426.3 230.3 L428.4 228.9 L430.5 227.6" stroke="#4DBEEE" stroke-width="4.6"/><path d="M430.5 227.6 L432.6 226.3 L434.6 225.0 L436.7 223.7 L438.8 222.4 L440.9 221.1 L443.0 219.8 L445.1 218.6 L447.2 217.3 L449.4 215.9 L451.6 214.6 L453.8 213.2 L456.0 211.9 L458.2 210.5 L460.4 209.1 L462.6 207.8 L464.8 206.5 L467.0 205.1 L469.2 203.9 L471.4 202.6 L473.6 201.4 L475.8 200.2 L478.0 199.0 L480.2 197.9 L482.3 196.9 L484.5 195.9 L486.7 195.0 L488.9 194.2 L491.6 193.3 L494.2 192.5 L496.8 191.8 L499.4 191.2 L502.0 190.7 L504.6 190.2 L507.2 189.8 L509.8 189.4 L512.4 189.1 L515.0 188.7 L517.7 188.4 L520.3 188.1 L522.9 187.7 L525.5 187.3 L528.1 186.8 L530.7 186.3 L533.2 185.8 L535.7 185.2 L538.2 184.6 L540.7 184.0 L543.2 183.4 L545.8 182.8 L548.3 182.2 L550.9 181.5 L553.4 180.9 L555.9 180.3 L558.3 179.7 L560.8 179.1 L563.2 178.5 L565.6 177.9 L567.9 177.4 L570.2 176.9 L572.5 176.4 L575.3 175.8 L578.1 175.3 L580.8 174.9 L583.5 174.5 L586.1 174.1 L588.7 173.7 L591.2 173.3 L593.7 173.0 L596.2 172.6 L598.6 172.2 L601.1 171.8 L603.5 171.3 L605.9 170.9 L608.5 170.3 L611.1 169.9 L613.7 169.5 L616.2 169.1 L618.8 168.7 L621.3 168.2 L623.7 167.7 L626.1 167.0 L628.5 166.2 L630.8 165.3 L633.0 164.2 L635.1 162.8 L637.1 161.3 L639.0 159.5 L640.9 157.4 L642.8 155.0 L644.7 152.6 L646.5 150.1 L648.2 147.6 L649.9 145.1 L651.4 142.8 L652.8 140.6 L654.0 138.7 L655.1 137.1 L656.0 135.8" stroke="#7E2F8E" stroke-width="4.6"/><path d="M71.3 431.2 L71.8 429.5 L73.4 427.4 L74.7 426.7 L76.7 426.1 L81.3 424.9 L83.0 424.4 L84.8 423.9 L86.8 423.3 L89.0 422.8 L91.3 422.1 L93.8 421.5 L96.4 420.8 L99.0 420.0 L101.8 419.3 L104.6 418.4 L107.4 417.6 L110.2 416.7 L113.1 415.8 L115.3 415.0 L117.5 414.3 L119.8 413.7 L122.2 413.0 L124.6 412.3 L127.1 411.6 L129.5 410.8 L132.1 410.1 L134.6 409.3" stroke="#7E2F8E" stroke-width="4.6"/><path d="M134.6 409.3 L137.1 408.4 L139.7 407.5 L142.2 406.4 L144.8 405.3 L147.3 404.2 L149.9 402.9 L152.4 401.4 L154.8 399.9 L156.7 398.6 L158.6 397.2 L160.5 395.8 L162.4 394.2 L164.3 392.6 L166.2 390.9 L168.1 389.1 L170.0 387.3 L171.9 385.5 L173.8 383.6 L175.7 381.7 L177.6 379.8 L179.5 377.8 L181.4 375.9 L183.3 374.0 L185.2 372.1 L187.1 370.2 L189.0 368.3 L190.9 366.5 L192.8 364.7 L194.7 363.0 L196.6 361.3 L198.6 359.6 L200.6 357.9 L202.6 356.2 L204.5 354.5 L206.5 352.9 L208.5 351.2 L210.5 349.6 L212.5 347.9 L214.5 346.3 L216.5 344.7 L218.5 343.1 L220.5 341.5 L222.4 339.9 L224.4 338.4 L226.4 336.9 L228.4 335.3 L230.4 333.8 L232.4 332.3 L234.4 330.9 L236.4 329.4 L238.4 328.0 L240.6 326.4 L242.8 324.9 L245.0 323.4 L247.1 321.9 L249.3 320.4 L251.5 318.9 L253.7 317.5 L255.9 316.0 L258.1 314.6 L260.3 313.2 L262.5 311.9 L264.7 310.5 L266.9 309.2 L269.1 307.8 L271.3 306.5 L273.5 305.3 L275.7 304.0 L277.9 302.7 L280.1 301.5 L282.4 300.2 L284.8 298.9 L287.1 297.6 L289.4 296.3 L291.7 295.0 L294.0 293.8" stroke="#7E2F8E" stroke-width="4.6"/><path d="M294.0 293.8 L296.4 292.5 L298.7 291.3 L301.0 290.1 L303.3 288.9 L305.6 287.8 L308.0 286.7 L310.3 285.7 L312.6 284.7 L314.9 283.8 L317.2 282.9 L319.6 282.1 L321.9 281.3 L324.5 280.6 L327.1 280.1 L329.7 279.7 L332.3 279.5 L334.9 279.4 L337.5 279.3 L340.2 279.2 L342.8 279.2 L345.4 279.2 L348.0 279.1 L350.6 278.9 L353.2 278.6 L355.8 278.2 L358.4 277.6 L361.0 276.8 L363.7 275.7 L365.7 274.8 L367.8 273.7 L369.9 272.4 L372.0 271.1 L374.1 269.8 L376.2 268.3 L378.3 266.7 L380.4 265.1 L382.4 263.5 L384.5 261.8 L386.6 260.1 L388.7 258.3 L390.8 256.5 L392.9 254.8 L395.0 253.0 L397.1 251.3 L399.1 249.5 L401.2 247.8 L403.3 246.2 L405.4 244.6 L407.5 243.0 L409.6 241.4 L411.7 239.8 L413.8 238.1 L415.9 236.4 L417.9 234.8 L420.0 233.1 L422.1 231.4 L424.2 229.7" stroke="#77AC30" stroke-width="4.6"/><path d="M424.2 229.7 L426.3 228.1 L428.4 226.4 L430.5 224.8 L432.6 223.2 L434.6 221.6 L436.7 220.0 L438.8 218.5 L440.9 217.0 L443.0 215.6 L445.1 214.2 L447.2 212.9 L449.5 211.5 L451.8 210.1 L454.1 208.8 L456.5 207.5 L458.8 206.2 L461.1 205.0 L463.4 203.8 L465.7 202.6 L468.1 201.5 L470.4 200.4 L472.7 199.3 L475.0 198.3 L477.3 197.3 L479.7 196.3 L482.0 195.4 L484.3 194.5 L486.6 193.6 L488.9 192.7 L491.4 191.8 L493.9 191.0 L496.3 190.3 L498.8 189.6 L501.2 188.9 L503.7 188.3 L506.1 187.7 L508.6 187.1 L511.1 186.6 L513.5 186.0 L516.0 185.5 L518.4 185.0 L520.9 184.5 L523.3 184.0 L525.8 183.4 L528.3 182.9 L530.7 182.3 L533.2 181.7 L535.7 181.1 L538.2 180.5 L540.7 179.9 L543.2 179.4 L545.8 178.8 L548.3 178.2 L550.9 177.6 L553.4 177.0 L555.9 176.4 L558.3 175.9 L560.8 175.3 L563.2 174.8 L565.6 174.2 L567.9 173.7 L570.2 173.2 L572.5 172.8 L575.3 172.2 L578.1 171.6 L580.8 171.1 L583.5 170.6 L586.1 170.1 L588.7 169.7 L591.2 169.2 L593.7 168.8 L596.2 168.3 L598.6 167.9 L601.1 167.4 L603.5 167.0 L605.9 166.5 L608.5 166.0 L611.1 165.6 L613.7 165.3 L616.2 165.0 L618.8 164.7 L621.3 164.4 L623.7 164.0 L626.1 163.5 L628.5 162.8 L630.8 162.0 L633.0 161.0 L635.1 159.7 L637.1 158.3 L639.0 156.5 L640.9 154.5 L642.8 152.2 L644.7 149.8 L646.5 147.4 L648.2 144.9 L649.9 142.5 L651.4 140.2 L652.8 138.1 L654.0 136.2 L655.1 134.6 L656.0 133.4" stroke="#0072BD" stroke-width="4.6"/><path d="M71.3 422.3 L71.8 420.6 L73.4 418.5 L74.7 417.8 L76.7 417.2 L81.3 415.9 L83.0 415.5 L84.8 415.0 L86.8 414.4 L89.0 413.8 L91.3 413.2 L93.8 412.6 L96.4 411.9 L99.0 411.1 L101.8 410.3 L104.6 409.5 L107.4 408.7 L110.2 407.8 L113.1 406.8 L115.3 406.1 L117.5 405.4 L119.8 404.6 L122.2 403.9 L124.6 403.1 L127.1 402.4 L129.5 401.6 L132.1 400.8 L134.6 399.9 L137.1 399.0 L139.7 398.0 L142.2 397.0 L144.8 395.9 L147.3 394.8 L149.9 393.6" stroke="#4DBEEE" stroke-width="4.6"/><path d="M149.9 393.6 L152.4 392.3 L154.8 390.9 L156.8 389.7 L158.8 388.4 L160.8 387.1 L162.8 385.7 L164.8 384.3 L166.8 382.8 L168.8 381.3 L170.7 379.7 L172.7 378.1 L174.7 376.5 L176.7 374.8 L178.7 373.1 L180.7 371.5 L182.7 369.8 L184.7 368.1 L186.6 366.4 L188.6 364.8 L190.6 363.1 L192.6 361.5 L194.6 359.9 L196.6 358.4 L198.6 356.9 L200.6 355.3 L202.6 353.8 L204.5 352.2 L206.5 350.7 L208.5 349.1 L210.5 347.6 L212.5 346.1 L214.5 344.5 L216.5 343.0 L218.5 341.5 L220.5 339.9 L222.4 338.4 L224.4 336.9 L226.4 335.4 L228.4 333.9 L230.4 332.4 L232.4 330.9 L234.4 329.4 L236.4 328.0 L238.4 326.5 L240.4 325.0 L242.5 323.5 L244.6 322.0 L246.7 320.4 L248.8 318.9 L250.9 317.3 L253.0 315.8 L255.1 314.3 L257.2 312.8 L259.2 311.3 L261.3 309.8 L263.4 308.4 L265.5 306.9 L267.6 305.5 L269.7 304.2 L271.8 302.8 L273.9 301.6 L275.9 300.3 L278.0 299.1 L280.1 297.9" stroke="#7E2F8E" stroke-width="4.6"/><path d="M280.1 297.9 L282.6 296.6 L285.0 295.4 L287.5 294.2 L289.9 293.0 L292.4 291.9 L294.9 290.8 L297.3 289.7 L299.8 288.7 L302.2 287.7 L304.7 286.8 L307.1 285.9 L309.6 285.1 L312.1 284.3 L314.5 283.5 L317.0 282.7 L319.4 282.0 L321.9 281.3 L324.5 280.7 L327.1 280.3 L329.7 280.0 L332.3 279.8 L334.9 279.7 L337.5 279.6 L340.2 279.6 L342.8 279.5 L345.4 279.5 L348.0 279.3 L350.6 279.1 L353.2 278.7 L355.8 278.2 L358.4 277.5 L361.0 276.6 L363.7 275.4 L365.6 274.4 L367.6 273.2 L369.6 271.9 L371.6 270.4 L373.6 268.9 L375.6 267.3 L377.6 265.6 L379.6 263.8 L381.5 262.0 L383.5 260.2 L385.5 258.3 L387.5 256.4 L389.5 254.4 L391.5 252.5 L393.5 250.6 L395.5 248.8 L397.5 246.9 L399.4 245.2 L401.4 243.4 L403.4 241.8 L405.4 240.2 L407.5 238.6 L409.6 237.1 L411.7 235.6 L413.8 234.0 L415.9 232.5 L417.9 231.1 L420.0 229.6 L422.1 228.1 L424.2 226.7 L426.3 225.3 L428.4 223.9 L430.5 222.5 L432.6 221.1 L434.6 219.8 L436.7 218.4 L438.8 217.1 L440.9 215.8" stroke="#77AC30" stroke-width="4.6"/><path d="M440.9 215.8 L443.0 214.4 L445.1 213.1 L447.2 211.8 L449.4 210.5 L451.6 209.1 L453.8 207.7 L456.0 206.3 L458.2 204.9 L460.4 203.6 L462.6 202.2 L464.8 200.9 L467.0 199.6 L469.2 198.3 L471.4 197.0 L473.6 195.8 L475.8 194.6 L478.0 193.4 L480.2 192.3 L482.3 191.2 L484.5 190.2 L486.7 189.2 L488.9 188.3 L491.4 187.4 L493.9 186.5 L496.3 185.8 L498.8 185.0 L501.2 184.4 L503.7 183.8 L506.1 183.2 L508.6 182.7 L511.1 182.2 L513.5 181.8 L516.0 181.3 L518.4 180.9 L520.9 180.4 L523.3 179.9 L525.8 179.4 L528.3 178.9 L530.7 178.3 L533.2 177.7 L535.7 177.1 L538.2 176.5 L540.7 175.8 L543.2 175.2 L545.8 174.5 L548.3 173.9 L550.9 173.2 L553.4 172.6 L555.9 172.0 L558.3 171.4 L560.8 170.8 L563.2 170.2 L565.6 169.7 L567.9 169.2 L570.2 168.7 L572.5 168.3 L575.3 167.8 L578.1 167.4 L580.8 167.1 L583.5 166.8 L586.1 166.6 L588.7 166.4 L591.2 166.2 L593.7 166.0 L596.2 165.7 L598.6 165.5 L601.1 165.2 L603.5 164.9 L605.9 164.5 L608.5 164.0 L611.1 163.6 L613.7 163.2 L616.2 162.8 L618.8 162.4 L621.3 161.9 L623.7 161.4 L626.1 160.7 L628.5 160.0 L630.8 159.0 L633.0 157.9 L635.1 156.7 L637.1 155.2 L639.0 153.4 L640.9 151.4 L642.8 149.2 L644.7 146.9 L646.5 144.5 L648.2 142.1 L649.9 139.8 L651.4 137.6 L652.8 135.5 L654.0 133.7 L655.1 132.1 L656.0 131.0" stroke="#EDB120" stroke-width="4.6"/><path d="M71.3 420.3 L71.8 418.6 L73.4 416.5 L74.7 415.8 L76.7 415.2 L81.3 413.9 L83.0 413.5 L84.8 413.0 L86.8 412.4 L89.0 411.8 L91.3 411.2 L93.8 410.5 L96.4 409.8 L99.0 409.1 L101.8 408.3 L104.6 407.5 L107.4 406.6 L110.2 405.8 L113.1 404.8 L115.3 404.1 L117.5 403.4 L119.8 402.7 L122.2 402.1 L124.6 401.4 L127.1 400.7" stroke="#4DBEEE" stroke-width="4.6"/><path d="M129.5 399.9 L132.1 399.2 L134.6 398.4 L137.1 397.5 L139.7 396.6 L142.2 395.6 L144.8 394.5 L147.3 393.4 L149.9 392.2 L152.4 390.8 L154.8 389.3 L156.7 388.1 L158.6 386.8 L160.5 385.4 L162.4 384.0 L164.3 382.4 L166.2 380.9 L168.1 379.2 L170.0 377.5 L171.9 375.8 L173.8 374.1 L175.7 372.3 L177.6 370.5 L179.5 368.7 L181.4 366.9 L183.3 365.1 L185.2 363.3 L187.1 361.5 L189.0 359.8 L190.9 358.1 L192.8 356.4 L194.7 354.8 L196.6 353.3 L198.7 351.6 L200.8 349.9 L202.9 348.3 L204.9 346.6 L207.0 345.0 L209.1 343.4 L211.2 341.8 L213.3 340.3 L215.4 338.7 L217.5 337.1 L219.6 335.6 L221.7 334.1 L223.7 332.5 L225.8 331.0 L227.9 329.5 L230.0 328.0 L232.1 326.6 L234.2 325.1 L236.3 323.6 L238.4 322.2 L240.6 320.6 L242.8 319.1 L245.0 317.6 L247.1 316.1 L249.3 314.5 L251.5 313.0 L253.7 311.5 L255.9 310.0 L258.1 308.6 L260.3 307.1 L262.5 305.7 L264.7 304.3 L266.9 302.9 L269.1 301.5 L271.3 300.2 L273.5 298.9 L275.7 297.6 L277.9 296.4 L280.1 295.2 L282.4 294.0 L284.8 292.8 L287.1 291.6 L289.4 290.4 L291.7 289.2" stroke="#4DBEEE" stroke-width="4.6"/><path d="M291.7 289.2 L294.0 288.1 L296.4 287.0 L298.7 286.0 L301.0 284.9 L303.3 283.9 L305.6 283.0 L308.0 282.1 L310.3 281.2 L312.6 280.4 L314.9 279.6 L317.2 278.9 L319.6 278.3 L321.9 277.7 L324.5 277.2 L327.1 276.9 L329.7 276.7 L332.3 276.8 L334.9 276.9 L337.5 277.0 L340.2 277.3 L342.8 277.5 L345.4 277.7 L348.0 277.8 L350.6 277.8 L353.2 277.7 L355.8 277.4 L358.4 276.9 L361.0 276.1 L363.7 275.1 L365.6 274.1 L367.6 273.0 L369.6 271.8 L371.6 270.4 L373.6 268.9 L375.6 267.3 L377.6 265.7 L379.6 263.9 L381.5 262.1 L383.5 260.3 L385.5 258.4 L387.5 256.5 L389.5 254.6 L391.5 252.7 L393.5 250.7 L395.5 248.8 L397.5 247.0 L399.4 245.1 L401.4 243.4 L403.4 241.7 L405.4 240.0 L407.5 238.4 L409.6 236.7 L411.7 235.1 L413.8 233.4 L415.9 231.7 L417.9 230.1 L420.0 228.4 L422.1 226.8 L424.2 225.2 L426.3 223.6 L428.4 222.0 L430.5 220.4 L432.6 218.8" stroke="#D95319" stroke-width="4.6"/><path d="M434.6 217.3 L436.7 215.8 L438.8 214.3 L440.9 212.9 L443.0 211.5 L445.1 210.1 L447.2 208.7 L449.5 207.3 L451.8 205.8 L454.1 204.4 L456.5 203.0 L458.8 201.7 L461.1 200.4 L463.4 199.1 L465.7 197.8 L468.1 196.6 L470.4 195.4 L472.7 194.2 L475.0 193.0 L477.3 191.9 L479.7 190.9 L482.0 189.8 L484.3 188.8 L486.6 187.8 L488.9 186.9 L491.4 185.9 L493.9 185.0 L496.3 184.2 L498.8 183.4 L501.2 182.7 L503.7 182.0 L506.1 181.3 L508.6 180.7 L511.1 180.0 L513.5 179.4 L516.0 178.9 L518.4 178.3 L520.9 177.7 L523.3 177.2 L525.8 176.6 L528.3 176.0 L530.7 175.4 L533.2 174.8 L535.7 174.2 L538.2 173.6 L540.7 173.0 L543.2 172.5 L545.8 171.9 L548.3 171.3 L550.9 170.8 L553.4 170.3 L555.9 169.7 L558.3 169.2 L560.8 168.7 L563.2 168.2 L565.6 167.7 L567.9 167.2 L570.2 166.8 L572.5 166.3 L575.3 165.7 L578.1 165.2 L580.8 164.7 L583.5 164.2 L586.1 163.7 L588.7 163.3 L591.2 162.8 L593.7 162.4 L596.2 161.9 L598.6 161.5 L601.1 161.1 L603.5 160.6 L605.9 160.1 L608.7 159.6 L611.6 159.2 L614.4 158.8 L617.2 158.5 L619.9 158.2 L622.6 157.8 L625.3 157.3 L627.9 156.7 L630.4 155.9 L632.8 154.8 L635.1 153.6 L637.1 152.2 L639.0 150.5 L640.9 148.5 L642.8 146.4 L644.7 144.1 L646.5 141.8 L648.2 139.5 L649.9 137.2 L651.4 135.0 L652.8 133.0 L654.0 131.2 L655.1 129.7 L656.0 128.5" stroke="#EDB120" stroke-width="4.6"/><path d="M71.3 416.3 L71.8 414.5 L73.4 412.5 L74.7 411.9 L76.7 411.5 L81.3 409.9 L83.0 409.3 L84.8 408.5 L86.8 407.6 L89.0 406.6 L91.3 405.6 L93.8 404.5 L96.4 403.4 L99.0 402.2 L101.8 401.1 L104.6 400.0 L107.4 398.9 L110.2 397.8 L113.1 396.8 L115.3 396.1 L117.5 395.5 L119.8 395.0 L122.2 394.5 L124.6 394.0 L127.1 393.5 L129.5 393.1 L132.1 392.6 L134.6 392.1 L137.1 391.5 L139.7 390.9 L142.2 390.2" stroke="#4DBEEE" stroke-width="4.6"/><path d="M142.2 390.2 L144.8 389.4 L147.3 388.5 L149.9 387.5 L152.4 386.3 L154.8 385.0 L156.7 383.8 L158.6 382.6 L160.5 381.2 L162.4 379.8 L164.3 378.3 L166.2 376.7 L168.1 375.0 L170.0 373.3 L171.9 371.6 L173.8 369.8 L175.7 368.0 L177.6 366.1 L179.5 364.3 L181.4 362.5 L183.3 360.7 L185.2 358.8 L187.1 357.1 L189.0 355.3 L190.9 353.6 L192.8 352.0 L194.7 350.4 L196.6 348.9 L198.7 347.3 L200.8 345.8 L202.9 344.3 L204.9 342.8 L207.0 341.3 L209.1 339.9 L211.2 338.5 L213.3 337.1 L215.4 335.7 L217.5 334.4 L219.6 333.0 L221.7 331.7 L223.7 330.3 L225.8 329.0 L227.9 327.6 L230.0 326.3 L232.1 324.9 L234.2 323.5 L236.3 322.1 L238.4 320.7 L240.4 319.3 L242.5 317.8 L244.6 316.2 L246.7 314.7 L248.8 313.1 L250.9 311.6 L253.0 310.0 L255.1 308.4 L257.2 306.9 L259.2 305.3 L261.3 303.8 L263.4 302.2 L265.5 300.7 L267.6 299.3 L269.7 297.9 L271.8 296.5 L273.9 295.2 L275.9 294.0 L278.0 292.8" stroke="#4DBEEE" stroke-width="4.6"/><path d="M278.0 292.8 L280.1 291.7 L282.6 290.4 L285.0 289.3 L287.5 288.2 L289.9 287.2 L292.4 286.3 L294.9 285.4 L297.3 284.6 L299.8 283.8 L302.2 283.1 L304.7 282.4 L307.1 281.7 L309.6 281.0 L312.1 280.4 L314.5 279.7 L317.0 279.0 L319.4 278.4 L321.9 277.7 L324.3 277.0 L326.8 276.5 L329.3 276.0 L331.7 275.6 L334.2 275.2 L336.6 274.8 L339.1 274.5 L341.5 274.1 L344.0 273.7 L346.5 273.3 L348.9 272.8 L351.4 272.3 L353.8 271.7 L356.3 270.9 L358.7 270.1 L361.2 269.1 L363.7 267.9 L365.6 266.8 L367.6 265.7 L369.6 264.5 L371.6 263.1 L373.6 261.7 L375.6 260.3 L377.6 258.7 L379.6 257.2 L381.5 255.5 L383.5 253.9 L385.5 252.2 L387.5 250.5 L389.5 248.8 L391.5 247.1 L393.5 245.4 L395.5 243.7 L397.5 242.0 L399.4 240.4 L401.4 238.7 L403.4 237.2 L405.4 235.7 L407.5 234.1 L409.6 232.5 L411.7 231.0 L413.8 229.4 L415.9 227.8 L417.9 226.2 L420.0 224.6 L422.1 223.0 L424.2 221.5 L426.3 219.9" stroke="#7E2F8E" stroke-width="4.6"/><path d="M426.3 219.9 L428.4 218.4 L430.5 216.8 L432.6 215.3 L434.6 213.9 L436.7 212.4 L438.8 211.0 L440.9 209.6 L443.0 208.2 L445.1 206.9 L447.2 205.6 L449.5 204.3 L451.8 202.9 L454.1 201.6 L456.5 200.4 L458.8 199.1 L461.1 197.9 L463.4 196.8 L465.7 195.7 L468.1 194.5 L470.4 193.5 L472.7 192.4 L475.0 191.4 L477.3 190.3 L479.7 189.3 L482.0 188.3 L484.3 187.4 L486.6 186.4 L488.9 185.4 L491.4 184.4 L493.9 183.4 L496.3 182.5 L498.8 181.5 L501.2 180.6 L503.7 179.7 L506.1 178.8 L508.6 178.0 L511.1 177.1 L513.5 176.3 L516.0 175.5 L518.4 174.7 L520.9 174.0 L523.3 173.2 L525.8 172.5 L528.3 171.7 L530.7 171.0 L533.2 170.3 L535.7 169.7 L538.2 169.0 L540.7 168.3 L543.2 167.7 L545.8 167.1 L548.3 166.5 L550.9 165.9 L553.4 165.4 L555.9 164.8 L558.3 164.3 L560.8 163.8 L563.2 163.3 L565.6 162.9 L567.9 162.4 L570.2 162.0 L572.5 161.6 L575.3 161.2 L578.1 160.8 L580.8 160.5 L583.5 160.3 L586.1 160.1 L588.7 160.0 L591.2 159.8 L593.7 159.6 L596.2 159.5 L598.6 159.2 L601.1 159.0 L603.5 158.6 L605.9 158.2 L608.5 157.7 L611.1 157.2 L613.7 156.8 L616.2 156.3 L618.8 155.8 L621.3 155.2 L623.7 154.6 L626.1 153.8 L628.5 152.9 L630.8 151.8 L633.0 150.6 L635.1 149.2 L637.1 147.6 L639.0 145.7 L640.9 143.5 L642.8 141.1 L644.7 138.6 L646.5 136.0 L648.2 133.5 L649.9 130.9 L651.4 128.5 L652.8 126.3 L654.0 124.3 L655.1 122.7 L656.0 121.4" stroke="#4DBEEE" stroke-width="4.6"/><path d="M71.3 412.3 L71.8 410.5 L73.4 408.5 L74.7 407.8 L76.7 407.3 L81.3 405.9 L83.0 405.4 L84.8 404.8 L86.8 404.2 L89.0 403.5 L91.3 402.8 L93.8 402.0 L96.4 401.2 L99.0 400.3 L101.8 399.4 L104.6 398.5 L107.4 397.6 L110.2 396.7 L113.1 395.7 L115.3 395.0 L117.5 394.3 L119.8 393.7 L122.2 393.1" stroke="#EDB120" stroke-width="4.6"/><path d="M122.2 393.1 L124.6 392.4 L127.1 391.8 L129.5 391.1 L132.1 390.4 L134.6 389.7 L137.1 388.9 L139.7 388.1 L142.2 387.2 L144.8 386.2 L147.3 385.1 L149.9 383.9 L152.4 382.6 L154.8 381.2 L156.7 379.9 L158.6 378.6 L160.5 377.2 L162.4 375.7 L164.3 374.2 L166.2 372.6 L168.1 370.9 L170.0 369.1 L171.9 367.4 L173.8 365.6 L175.7 363.7 L177.6 361.9 L179.5 360.1 L181.4 358.2 L183.3 356.4 L185.2 354.6 L187.1 352.9 L189.0 351.2 L190.9 349.5 L192.8 347.9 L194.7 346.4 L196.6 344.9 L198.8 343.3 L201.0 341.8 L203.2 340.3 L205.4 338.9 L207.6 337.5 L209.8 336.1 L212.0 334.8 L214.2 333.5 L216.4 332.2 L218.6 330.9 L220.8 329.7 L223.0 328.4 L225.2 327.2 L227.4 325.9 L229.6 324.6 L231.8 323.3 L234.0 322.0 L236.2 320.6 L238.4 319.2 L240.4 317.9 L242.5 316.5 L244.6 315.1 L246.7 313.6 L248.8 312.2 L250.9 310.7 L253.0 309.2 L255.1 307.7 L257.2 306.3 L259.2 304.8 L261.3 303.3 L263.4 301.9 L265.5 300.4 L267.6 299.0 L269.7 297.6 L271.8 296.3 L273.9 295.0 L275.9 293.7 L278.0 292.5 L280.1 291.3 L282.4 290.1 L284.8 288.9 L287.1 287.7 L289.4 286.5" stroke="#4DBEEE" stroke-width="4.6"/><path d="M289.4 286.5 L291.7 285.4 L294.0 284.3 L296.4 283.3 L298.7 282.3 L301.0 281.3 L303.3 280.3 L305.6 279.4 L308.0 278.5 L310.3 277.6 L312.6 276.8 L314.9 276.0 L317.2 275.3 L319.6 274.6 L321.9 273.9 L324.5 273.3 L327.1 272.8 L329.7 272.5 L332.3 272.2 L334.9 272.1 L337.5 272.0 L340.2 271.9 L342.8 271.8 L345.4 271.7 L348.0 271.6 L350.6 271.3 L353.2 271.0 L355.8 270.5 L358.4 269.8 L361.0 269.0 L363.7 267.9 L365.6 266.9 L367.6 265.8 L369.6 264.6 L371.6 263.4 L373.6 262.0 L375.6 260.5 L377.6 259.0 L379.6 257.4 L381.5 255.8 L383.5 254.1 L385.5 252.4 L387.5 250.7 L389.5 248.9 L391.5 247.2 L393.5 245.4 L395.5 243.7 L397.5 242.0 L399.4 240.3 L401.4 238.6 L403.4 237.0 L405.4 235.5 L407.5 233.9 L409.6 232.3 L411.7 230.7 L413.8 229.1 L415.9 227.5 L417.9 225.9" stroke="#4DBEEE" stroke-width="4.6"/><path d="M420.0 224.3 L422.1 222.6 L424.2 221.0 L426.3 219.5 L428.4 217.9 L430.5 216.3 L432.6 214.8 L434.6 213.2 L436.7 211.7 L438.8 210.2 L440.9 208.8 L443.0 207.3 L445.1 205.9 L447.2 204.5 L449.4 203.1 L451.6 201.7 L453.8 200.3 L456.0 198.9 L458.2 197.5 L460.4 196.1 L462.6 194.8 L464.8 193.5 L467.0 192.2 L469.2 190.9 L471.4 189.7 L473.6 188.5 L475.8 187.3 L478.0 186.2 L480.2 185.1 L482.3 184.0 L484.5 183.0 L486.7 182.0 L488.9 181.0 L491.4 180.1 L493.9 179.2 L496.3 178.4 L498.8 177.6 L501.2 176.9 L503.7 176.3 L506.1 175.6 L508.6 175.1 L511.1 174.5 L513.5 174.0 L516.0 173.4 L518.4 172.9 L520.9 172.4 L523.3 171.8 L525.8 171.2 L528.3 170.6 L530.7 169.9 L533.2 169.2 L535.7 168.5 L538.2 167.7 L540.7 166.9 L543.2 166.1 L545.8 165.3 L548.3 164.5 L550.9 163.6 L553.4 162.8 L555.9 162.1 L558.3 161.3 L560.8 160.6 L563.2 159.9 L565.6 159.3 L567.9 158.7 L570.2 158.2 L572.5 157.7 L575.3 157.3 L578.1 157.0 L580.8 156.9 L583.5 156.8 L586.1 156.8 L588.7 156.9 L591.2 156.9 L593.7 157.0 L596.2 157.0 L598.6 157.0 L601.1 156.9 L603.5 156.7 L605.9 156.3 L608.5 155.8 L611.1 155.3 L613.7 154.7 L616.2 154.2 L618.8 153.5 L621.3 152.8 L623.7 152.0 L626.1 151.1 L628.5 150.0 L630.8 148.9 L633.0 147.6 L635.1 146.1 L637.1 144.5 L639.0 142.6 L640.9 140.4 L642.8 138.1 L644.7 135.6 L646.5 133.1 L648.2 130.6 L649.9 128.2 L651.4 125.8 L652.8 123.7 L654.0 121.8 L655.1 120.2 L656.0 118.9" stroke="#7E2F8E" stroke-width="4.6"/><path d="M71.3 411.2 L71.8 409.4 L73.4 407.4 L74.7 406.8 L76.7 406.3 L81.3 404.8 L83.0 404.2 L84.8 403.5 L86.8 402.8 L89.0 402.0 L91.3 401.1 L93.8 400.2 L96.4 399.2 L99.0 398.2 L101.8 397.1 L104.6 396.0 L107.4 394.9 L110.2 393.8 L113.1 392.6 L115.1 391.8 L117.3 391.0 L119.4 390.2 L121.7 389.3 L123.9 388.5 L126.2 387.6 L128.6 386.8 L130.9 385.9 L133.3 385.0 L135.7 384.0" stroke="#EDB120" stroke-width="4.6"/><path d="M138.1 383.1 L140.5 382.0 L142.9 381.0 L145.4 379.9 L147.8 378.7 L150.1 377.5 L152.5 376.2 L154.8 374.9 L156.8 373.7 L158.8 372.4 L160.8 371.0 L162.8 369.6 L164.8 368.2 L166.8 366.7 L168.8 365.1 L170.7 363.6 L172.7 362.0 L174.7 360.4 L176.7 358.7 L178.7 357.1 L180.7 355.4 L182.7 353.8 L184.7 352.2 L186.6 350.6 L188.6 349.0 L190.6 347.4 L192.6 345.9 L194.6 344.4 L196.6 342.9 L198.7 341.4 L200.8 339.9 L202.9 338.5 L204.9 337.0 L207.0 335.5 L209.1 334.1 L211.2 332.6 L213.3 331.2 L215.4 329.8 L217.5 328.4 L219.6 327.0 L221.7 325.6 L223.7 324.2 L225.8 322.9 L227.9 321.5 L230.0 320.2 L232.1 318.8 L234.2 317.5 L236.3 316.2 L238.4 314.9 L240.6 313.5 L242.8 312.2 L245.0 310.8 L247.1 309.5 L249.3 308.1 L251.5 306.8 L253.7 305.5 L255.9 304.2 L258.1 302.9 L260.3 301.6 L262.5 300.4 L264.7 299.1 L266.9 297.9 L269.1 296.7 L271.3 295.5 L273.5 294.4 L275.7 293.2" stroke="#0072BD" stroke-width="4.6"/><path d="M277.9 292.1 L280.1 291.0 L282.4 289.9 L284.8 288.8 L287.1 287.7 L289.4 286.6 L291.7 285.6 L294.0 284.5 L296.4 283.5 L298.7 282.5 L301.0 281.5 L303.3 280.6 L305.6 279.6 L308.0 278.7 L310.3 277.9 L312.6 277.0 L314.9 276.2 L317.2 275.4 L319.6 274.6 L321.9 273.8 L324.3 273.1 L326.8 272.5 L329.3 272.0 L331.7 271.5 L334.2 271.2 L336.6 270.8 L339.1 270.5 L341.5 270.2 L344.0 269.9 L346.5 269.5 L348.9 269.1 L351.4 268.6 L353.8 268.0 L356.3 267.3 L358.7 266.4 L361.2 265.4 L363.7 264.3 L365.6 263.2 L367.6 262.0 L369.6 260.7 L371.6 259.4 L373.6 257.9 L375.6 256.4 L377.6 254.8 L379.6 253.2 L381.5 251.5 L383.5 249.8 L385.5 248.1 L387.5 246.4 L389.5 244.6 L391.5 242.8 L393.5 241.1 L395.5 239.3 L397.5 237.6 L399.4 235.9 L401.4 234.3 L403.4 232.7 L405.4 231.1 L407.5 229.5 L409.6 227.9 L411.7 226.4 L413.8 224.8 L415.9 223.2 L417.9 221.6 L420.0 220.0 L422.1 218.4 L424.2 216.9 L426.3 215.3 L428.4 213.8 L430.5 212.3 L432.6 210.8 L434.6 209.3 L436.7 207.8" stroke="#4DBEEE" stroke-width="4.6"/><path d="M436.7 207.8 L438.8 206.4 L440.9 205.0 L443.0 203.6 L445.1 202.3 L447.2 201.0 L449.5 199.6 L451.8 198.2 L454.1 196.8 L456.5 195.5 L458.8 194.2 L461.1 192.9 L463.4 191.7 L465.7 190.4 L468.1 189.2 L470.4 188.1 L472.7 186.9 L475.0 185.8 L477.3 184.7 L479.7 183.6 L482.0 182.6 L484.3 181.6 L486.6 180.6 L488.9 179.6 L491.4 178.6 L493.9 177.7 L496.3 176.8 L498.8 175.9 L501.2 175.1 L503.7 174.3 L506.1 173.5 L508.6 172.7 L511.1 172.0 L513.5 171.3 L516.0 170.6 L518.4 169.9 L520.9 169.2 L523.3 168.5 L525.8 167.8 L528.3 167.1 L530.7 166.4 L533.2 165.7 L535.7 164.9 L538.2 164.1 L540.7 163.3 L543.2 162.6 L545.8 161.8 L548.3 161.0 L550.9 160.3 L553.4 159.5 L555.9 158.8 L558.3 158.1 L560.8 157.4 L563.2 156.8 L565.6 156.2 L567.9 155.7 L570.2 155.2 L572.5 154.8 L575.3 154.3 L578.1 154.0 L580.8 153.9 L583.5 153.8 L586.1 153.7 L588.7 153.8 L591.2 153.8 L593.7 153.8 L596.2 153.8 L598.6 153.7 L601.1 153.6 L603.5 153.3 L605.9 153.0 L608.5 152.5 L611.1 152.0 L613.7 151.4 L616.2 150.9 L618.8 150.2 L621.3 149.5 L623.7 148.7 L626.1 147.8 L628.5 146.8 L630.8 145.7 L633.0 144.4 L635.1 143.0 L637.1 141.4 L639.0 139.6 L640.9 137.5 L642.8 135.2 L644.7 132.8 L646.5 130.3 L648.2 127.9 L649.9 125.5 L651.4 123.2 L652.8 121.1 L654.0 119.2 L655.1 117.6 L656.0 116.4" stroke="#77AC30" stroke-width="4.6"/><path d="M71.3 407.0 L71.8 405.2 L73.4 403.1 L74.7 402.5 L76.7 402.0 L81.3 400.6 L83.0 400.1 L84.8 399.5 L86.8 398.9 L89.0 398.2 L91.3 397.5 L93.8 396.8 L96.4 395.9 L99.0 395.1 L101.8 394.2 L104.6 393.2 L107.4 392.2 L110.2 391.1 L113.1 390.0 L115.1 389.1 L117.3 388.3 L119.4 387.4 L121.7 386.5 L123.9 385.5 L126.2 384.6 L128.6 383.6 L130.9 382.5 L133.3 381.5 L135.7 380.4 L138.1 379.3 L140.5 378.1 L142.9 376.9 L145.4 375.7 L147.8 374.4 L150.1 373.1" stroke="#0072BD" stroke-width="4.6"/><path d="M152.5 371.7 L154.8 370.3 L156.9 369.0 L159.0 367.6 L161.1 366.1 L163.2 364.6 L165.3 363.1 L167.4 361.5 L169.4 359.8 L171.5 358.2 L173.6 356.5 L175.7 354.8 L177.8 353.1 L179.9 351.4 L182.0 349.7 L184.1 348.0 L186.2 346.3 L188.2 344.7 L190.3 343.1 L192.4 341.5 L194.5 340.0 L196.6 338.5 L198.8 337.1 L201.0 335.6 L203.2 334.2 L205.4 332.8 L207.6 331.5 L209.8 330.2 L212.0 328.9 L214.2 327.6 L216.4 326.3 L218.6 325.0 L220.8 323.8 L223.0 322.5 L225.2 321.2 L227.4 320.0 L229.6 318.7 L231.8 317.4 L234.0 316.1 L236.2 314.8 L238.4 313.4 L240.6 312.0 L242.8 310.6 L245.0 309.2 L247.1 307.7 L249.3 306.2 L251.5 304.7 L253.7 303.2 L255.9 301.7 L258.1 300.2 L260.3 298.7 L262.5 297.3 L264.7 295.8 L266.9 294.4 L269.1 293.1 L271.3 291.7 L273.5 290.5 L275.7 289.3 L277.9 288.1 L280.1 287.0 L282.6 285.9 L285.0 284.8 L287.5 283.8" stroke="#EDB120" stroke-width="4.6"/><path d="M287.5 283.8 L289.9 282.9 L292.4 282.0 L294.9 281.2 L297.3 280.4 L299.8 279.7 L302.2 279.0 L304.7 278.3 L307.1 277.6 L309.6 277.0 L312.1 276.3 L314.5 275.7 L317.0 275.0 L319.4 274.4 L321.9 273.7 L324.3 273.1 L326.8 272.6 L329.3 272.2 L331.7 271.8 L334.2 271.4 L336.6 271.1 L339.1 270.8 L341.5 270.5 L344.0 270.1 L346.5 269.8 L348.9 269.3 L351.4 268.8 L353.8 268.1 L356.3 267.4 L358.7 266.5 L361.2 265.5 L363.7 264.3 L365.6 263.2 L367.6 261.9 L369.6 260.6 L371.6 259.2 L373.6 257.7 L375.6 256.2 L377.6 254.5 L379.6 252.8 L381.5 251.1 L383.5 249.3 L385.5 247.5 L387.5 245.7 L389.5 243.8 L391.5 242.0 L393.5 240.1 L395.5 238.3 L397.5 236.5 L399.4 234.7 L401.4 233.0 L403.4 231.3 L405.4 229.7 L407.4 228.1 L409.4 226.5 L411.4 224.9 L413.4 223.2 L415.4 221.6 L417.3 219.9 L419.3 218.3 L421.3 216.7 L423.3 215.0 L425.3 213.4 L427.3 211.8 L429.3 210.2" stroke="#0072BD" stroke-width="4.6"/><path d="M429.3 210.2 L431.3 208.7 L433.3 207.1 L435.2 205.6 L437.2 204.2 L439.2 202.7 L441.2 201.3 L443.2 200.0 L445.2 198.7 L447.2 197.4 L449.5 196.0 L451.8 194.7 L454.1 193.4 L456.5 192.2 L458.8 191.0 L461.1 189.9 L463.4 188.8 L465.7 187.7 L468.1 186.7 L470.4 185.7 L472.7 184.8 L475.0 183.8 L477.3 182.8 L479.7 181.9 L482.0 181.0 L484.3 180.0 L486.6 179.1 L488.9 178.1 L491.4 177.1 L493.9 176.1 L496.3 175.2 L498.8 174.2 L501.2 173.2 L503.7 172.3 L506.1 171.4 L508.6 170.5 L511.1 169.6 L513.5 168.7 L516.0 167.8 L518.4 167.0 L520.9 166.1 L523.3 165.3 L525.8 164.5 L528.3 163.6 L530.7 162.8 L533.2 162.0 L535.7 161.2 L538.2 160.4 L540.7 159.6 L543.2 158.8 L545.8 158.0 L548.3 157.2 L550.9 156.4 L553.4 155.7 L555.9 155.0 L558.3 154.3 L560.8 153.6 L563.2 153.0 L565.6 152.4 L567.9 151.9 L570.2 151.4 L572.5 151.0 L575.3 150.6 L578.1 150.3 L580.8 150.1 L583.5 150.1 L586.1 150.1 L588.7 150.2 L591.2 150.2 L593.7 150.3 L596.2 150.3 L598.6 150.3 L601.1 150.2 L603.5 150.0 L605.9 149.6 L608.5 149.2 L611.1 148.7 L613.7 148.2 L616.2 147.6 L618.8 147.0 L621.3 146.3 L623.7 145.5 L626.1 144.7 L628.5 143.7 L630.8 142.6 L633.0 141.3 L635.1 139.9 L637.1 138.4 L639.0 136.5 L640.9 134.5 L642.8 132.3 L644.7 129.9 L646.5 127.5 L648.2 125.1 L649.9 122.8 L651.4 120.5 L652.8 118.5 L654.0 116.7 L655.1 115.1 L656.0 113.9" stroke="#4DBEEE" stroke-width="4.6"/><path d="M71.3 403.2 L71.8 401.4 L73.4 399.4 L74.7 398.7 L76.7 398.1 L81.3 396.8 L83.0 396.4 L84.8 395.9 L86.8 395.4 L89.0 394.9 L91.3 394.3 L93.8 393.7 L96.4 393.0 L99.0 392.3 L101.8 391.5 L104.6 390.7 L107.4 389.7 L110.2 388.7 L113.1 387.5 L115.1 386.6 L117.3 385.7 L119.4 384.7 L121.7 383.7 L123.9 382.6 L126.2 381.5 L128.6 380.3 L130.9 379.1" stroke="#0072BD" stroke-width="4.6"/><path d="M130.9 379.1 L133.3 377.9 L135.7 376.6 L138.1 375.3 L140.5 374.0 L142.9 372.7 L145.4 371.3 L147.8 370.0 L150.1 368.6 L152.5 367.2 L154.8 365.8 L156.9 364.5 L159.0 363.1 L161.1 361.7 L163.2 360.3 L165.3 358.9 L167.4 357.4 L169.4 355.9 L171.5 354.4 L173.6 352.9 L175.7 351.3 L177.8 349.8 L179.9 348.3 L182.0 346.7 L184.1 345.2 L186.2 343.7 L188.2 342.2 L190.3 340.7 L192.4 339.3 L194.5 337.9 L196.6 336.5 L198.8 335.1 L201.0 333.8 L203.2 332.4 L205.4 331.1 L207.6 329.8 L209.8 328.5 L212.0 327.2 L214.2 325.9 L216.4 324.6 L218.6 323.4 L220.8 322.1 L223.0 320.8 L225.2 319.6 L227.4 318.3 L229.6 317.1 L231.8 315.8 L234.0 314.5 L236.2 313.3 L238.4 312.0 L240.6 310.7 L242.8 309.3 L245.0 308.0 L247.1 306.6 L249.3 305.2 L251.5 303.9 L253.7 302.5 L255.9 301.1 L258.1 299.7 L260.3 298.4 L262.5 297.0 L264.7 295.7 L266.9 294.4 L269.1 293.1 L271.3 291.8 L273.5 290.6 L275.7 289.3 L277.9 288.2 L280.1 287.0 L282.4 285.8 L284.8 284.7 L287.1 283.6 L289.4 282.4 L291.7 281.3 L294.0 280.3 L296.4 279.2 L298.7 278.2" stroke="#77AC30" stroke-width="4.6"/><path d="M298.7 278.2 L301.0 277.2 L303.3 276.2 L305.6 275.2 L308.0 274.3 L310.3 273.4 L312.6 272.5 L314.9 271.7 L317.2 270.9 L319.6 270.1 L321.9 269.4 L324.3 268.7 L326.8 268.1 L329.3 267.6 L331.7 267.2 L334.2 266.9 L336.6 266.6 L339.1 266.3 L341.5 266.0 L344.0 265.8 L346.5 265.5 L348.9 265.1 L351.4 264.6 L353.8 264.1 L356.3 263.5 L358.7 262.7 L361.2 261.7 L363.7 260.6 L365.6 259.6 L367.6 258.5 L369.6 257.2 L371.6 255.9 L373.6 254.6 L375.6 253.1 L377.6 251.6 L379.6 250.0 L381.5 248.4 L383.5 246.8 L385.5 245.1 L387.5 243.4 L389.5 241.7 L391.5 239.9 L393.5 238.2 L395.5 236.5 L397.5 234.8 L399.4 233.1 L401.4 231.5 L403.4 229.9 L405.4 228.3 L407.4 226.7 L409.4 225.2 L411.4 223.6 L413.4 222.0 L415.4 220.4 L417.3 218.8 L419.3 217.2 L421.3 215.5" stroke="#4DBEEE" stroke-width="4.6"/><path d="M421.3 215.5 L423.3 213.9 L425.3 212.3 L427.3 210.7 L429.3 209.1 L431.3 207.6 L433.3 206.0 L435.2 204.5 L437.2 203.0 L439.2 201.5 L441.2 200.1 L443.2 198.7 L445.2 197.3 L447.2 196.0 L449.5 194.5 L451.8 193.0 L454.1 191.6 L456.5 190.2 L458.8 188.8 L461.1 187.5 L463.4 186.2 L465.7 184.9 L468.1 183.7 L470.4 182.4 L472.7 181.3 L475.0 180.1 L477.3 179.0 L479.7 177.9 L482.0 176.8 L484.3 175.8 L486.6 174.8 L488.9 173.8 L491.4 172.8 L493.9 171.8 L496.3 170.9 L498.8 170.1 L501.2 169.3 L503.7 168.5 L506.1 167.7 L508.6 167.0 L511.1 166.3 L513.5 165.6 L516.0 164.9 L518.4 164.3 L520.9 163.6 L523.3 162.9 L525.8 162.3 L528.3 161.6 L530.7 160.8 L533.2 160.1 L535.7 159.3 L538.2 158.6 L540.7 157.8 L543.2 157.0 L545.8 156.2 L548.3 155.4 L550.9 154.7 L553.4 153.9 L555.9 153.2 L558.3 152.5 L560.8 151.8 L563.2 151.1 L565.6 150.5 L567.9 150.0 L570.2 149.5 L572.5 149.0 L575.3 148.5 L578.1 148.2 L580.8 147.9 L583.5 147.8 L586.1 147.7 L588.7 147.6 L591.2 147.5 L593.7 147.5 L596.2 147.4 L598.6 147.3 L601.1 147.0 L603.5 146.7 L605.9 146.3 L608.5 145.7 L611.1 145.1 L613.7 144.5 L616.2 143.8 L618.8 143.0 L621.3 142.2 L623.7 141.4 L626.1 140.4 L628.5 139.3 L630.8 138.2 L633.0 136.9 L635.1 135.5 L637.2 133.9 L639.3 132.0 L641.4 129.9 L643.5 127.6 L645.5 125.2 L647.4 122.8 L649.2 120.4 L650.9 118.2 L652.4 116.1 L653.8 114.2 L655.0 112.6 L656.0 111.4" stroke="#77AC30" stroke-width="4.6"/><path d="M71.3 403.0 L71.8 401.3 L73.4 399.2 L74.7 398.6 L76.7 398.2 L81.3 396.6 L83.0 396.0 L84.8 395.2 L86.8 394.4 L89.0 393.6 L91.3 392.6 L93.8 391.6 L96.4 390.5 L99.0 389.4 L101.8 388.3 L104.6 387.0 L107.4 385.8 L110.2 384.5 L113.1 383.2 L115.1 382.2 L117.3 381.2 L119.4 380.1 L121.7 379.1 L123.9 378.0 L126.2 376.9 L128.6 375.8 L130.9 374.6 L133.3 373.4 L135.7 372.2 L138.1 371.0 L140.5 369.7 L142.9 368.5 L145.4 367.1" stroke="#EDB120" stroke-width="4.6"/><path d="M145.4 367.1 L147.8 365.8 L150.1 364.5 L152.5 363.1 L154.8 361.7 L156.9 360.4 L159.0 359.0 L161.1 357.6 L163.2 356.2 L165.3 354.7 L167.4 353.2 L169.4 351.7 L171.5 350.2 L173.6 348.6 L175.7 347.1 L177.8 345.5 L179.9 343.9 L182.0 342.4 L184.1 340.8 L186.2 339.3 L188.2 337.8 L190.3 336.3 L192.4 334.9 L194.5 333.5 L196.6 332.1 L198.8 330.7 L201.0 329.3 L203.2 327.9 L205.4 326.6 L207.6 325.3 L209.8 324.0 L212.0 322.7 L214.2 321.4 L216.4 320.2 L218.6 318.9 L220.8 317.7 L223.0 316.4 L225.2 315.2 L227.4 313.9 L229.6 312.7 L231.8 311.4 L234.0 310.2 L236.2 308.9 L238.4 307.6 L240.6 306.3 L242.8 305.0 L245.0 303.6 L247.1 302.2 L249.3 300.9 L251.5 299.5 L253.7 298.1 L255.9 296.7 L258.1 295.3 L260.3 294.0 L262.5 292.6 L264.7 291.3 L266.9 290.0 L269.1 288.7 L271.3 287.5 L273.5 286.3 L275.7 285.1 L277.9 284.1 L280.1 283.0 L282.6 281.9 L285.0 280.9" stroke="#EDB120" stroke-width="4.6"/><path d="M285.0 280.9 L287.5 279.9 L289.9 278.9 L292.4 278.0 L294.9 277.2 L297.3 276.3 L299.8 275.5 L302.2 274.8 L304.7 274.0 L307.1 273.3 L309.6 272.6 L312.1 271.9 L314.5 271.2 L317.0 270.6 L319.4 269.9 L321.9 269.3 L324.3 268.7 L326.8 268.2 L329.3 267.8 L331.7 267.4 L334.2 267.1 L336.6 266.8 L339.1 266.6 L341.5 266.3 L344.0 266.0 L346.5 265.7 L348.9 265.3 L351.4 264.8 L353.8 264.3 L356.3 263.6 L358.7 262.8 L361.2 261.8 L363.7 260.6 L365.6 259.6 L367.6 258.4 L369.6 257.1 L371.6 255.7 L373.6 254.3 L375.6 252.8 L377.6 251.2 L379.6 249.5 L381.5 247.8 L383.5 246.1 L385.5 244.4 L387.5 242.6 L389.5 240.8 L391.5 239.0 L393.5 237.2 L395.5 235.4 L397.5 233.6 L399.4 231.9 L401.4 230.2 L403.4 228.5 L405.4 226.9 L407.4 225.3 L409.4 223.7 L411.4 222.1 L413.4 220.5 L415.4 218.9 L417.3 217.2 L419.3 215.6 L421.3 214.0 L423.3 212.4 L425.3 210.8 L427.3 209.2 L429.3 207.6 L431.3 206.1 L433.3 204.5 L435.2 203.0 L437.2 201.5 L439.2 200.0" stroke="#0072BD" stroke-width="4.6"/><path d="M439.2 200.0 L441.2 198.6 L443.2 197.2 L445.2 195.8 L447.2 194.5 L449.5 193.0 L451.8 191.6 L454.1 190.2 L456.5 188.8 L458.8 187.4 L461.1 186.1 L463.4 184.9 L465.7 183.6 L468.1 182.4 L470.4 181.2 L472.7 180.0 L475.0 178.9 L477.3 177.7 L479.7 176.6 L482.0 175.5 L484.3 174.4 L486.6 173.4 L488.9 172.3 L491.4 171.2 L493.9 170.1 L496.3 169.1 L498.8 168.1 L501.2 167.1 L503.7 166.1 L506.1 165.1 L508.6 164.2 L511.1 163.3 L513.5 162.4 L516.0 161.5 L518.4 160.6 L520.9 159.8 L523.3 158.9 L525.8 158.1 L528.3 157.3 L530.7 156.5 L533.2 155.7 L535.7 154.8 L538.2 154.0 L540.7 153.2 L543.2 152.4 L545.8 151.6 L548.3 150.9 L550.9 150.1 L553.4 149.4 L555.9 148.7 L558.3 148.0 L560.8 147.3 L563.2 146.7 L565.6 146.1 L567.9 145.6 L570.2 145.1 L572.5 144.6 L575.3 144.1 L578.1 143.8 L580.8 143.5 L583.5 143.4 L586.1 143.2 L588.7 143.2 L591.2 143.1 L593.7 143.1 L596.2 143.0 L598.6 142.8 L601.1 142.6 L603.5 142.3 L605.9 141.9 L608.5 141.4 L611.1 140.8 L613.7 140.2 L616.2 139.6 L618.8 139.0 L621.3 138.2 L623.7 137.4 L626.1 136.6 L628.5 135.6 L630.8 134.5 L633.0 133.3 L635.1 132.0 L637.2 130.5 L639.3 128.7 L641.4 126.6 L643.5 124.5 L645.5 122.2 L647.4 119.9 L649.2 117.6 L650.9 115.4 L652.4 113.4 L653.8 111.6 L655.0 110.1 L656.0 108.9" stroke="#0072BD" stroke-width="4.6"/><path d="M71.3 398.6 L71.8 396.9 L73.4 394.8 L74.7 394.2 L76.7 393.7 L81.3 392.3 L83.0 391.7 L84.8 391.2 L86.8 390.6 L89.0 390.0 L91.3 389.4 L93.8 388.7 L96.4 387.9 L99.0 387.1 L101.8 386.2 L104.6 385.2 L107.4 384.1 L110.2 383.0 L113.1 381.7 L115.0 380.8 L117.0 379.8 L119.1 378.8 L121.2 377.7 L123.3 376.6" stroke="#EDB120" stroke-width="4.6"/><path d="M125.5 375.4 L127.7 374.2 L129.9 373.0 L132.2 371.7 L134.5 370.4 L136.7 369.1 L139.0 367.8 L141.3 366.4 L143.6 365.1 L145.9 363.7 L148.1 362.3 L150.4 360.9 L152.6 359.4 L154.8 358.0 L156.9 356.7 L159.0 355.2 L161.1 353.8 L163.2 352.3 L165.3 350.8 L167.4 349.2 L169.4 347.6 L171.5 346.1 L173.6 344.5 L175.7 342.9 L177.8 341.3 L179.9 339.7 L182.0 338.1 L184.1 336.6 L186.2 335.0 L188.2 333.6 L190.3 332.1 L192.4 330.7 L194.5 329.3 L196.6 328.0 L198.9 326.6 L201.2 325.2 L203.6 323.9 L205.9 322.7 L208.2 321.5 L210.5 320.3 L212.8 319.1 L215.2 318.0 L217.5 316.8 L219.8 315.7 L222.1 314.6 L224.4 313.5 L226.8 312.4 L229.1 311.3 L231.4 310.1 L233.7 308.9 L236.0 307.7 L238.4 306.5 L240.6 305.3 L242.8 304.1 L245.0 302.8 L247.1 301.5 L249.3 300.2 L251.5 298.9 L253.7 297.5 L255.9 296.2 L258.1 294.9 L260.3 293.6 L262.5 292.3 L264.7 291.0 L266.9 289.7 L269.1 288.5 L271.3 287.3 L273.5 286.1 L275.7 285.0 L277.9 283.9 L280.1 282.9 L282.6 281.9 L285.0 280.8 L287.5 279.9 L289.9 279.0 L292.4 278.1 L294.9 277.3 L297.3 276.5" stroke="#D95319" stroke-width="4.6"/><path d="M297.3 276.5 L299.8 275.7 L302.2 275.0 L304.7 274.2 L307.1 273.5 L309.6 272.8 L312.1 272.1 L314.5 271.4 L317.0 270.7 L319.4 269.9 L321.9 269.2 L324.3 268.4 L326.8 267.8 L329.3 267.2 L331.7 266.6 L334.2 266.1 L336.6 265.5 L339.1 265.0 L341.5 264.5 L344.0 263.9 L346.5 263.3 L348.9 262.6 L351.4 261.9 L353.8 261.1 L356.3 260.3 L358.7 259.3 L361.2 258.2 L363.7 257.0 L365.7 255.8 L367.8 254.6 L369.9 253.4 L372.0 252.0 L374.1 250.6 L376.2 249.1 L378.3 247.6 L380.4 246.0 L382.4 244.4 L384.5 242.8 L386.6 241.1 L388.7 239.4 L390.8 237.7 L392.9 235.9 L395.0 234.2 L397.1 232.4 L399.1 230.7 L401.2 228.9 L403.3 227.2 L405.4 225.5 L407.3 223.9 L409.2 222.2 L411.1 220.5 L413.0 218.8 L414.9 217.0 L416.8 215.2 L418.7 213.4 L420.6 211.6 L422.5 209.7 L424.4 207.9 L426.3 206.0 L428.2 204.2 L430.1 202.4 L432.0 200.6" stroke="#7E2F8E" stroke-width="4.6"/><path d="M432.0 200.6 L433.9 198.9 L435.8 197.2 L437.7 195.6 L439.6 194.0 L441.5 192.4 L443.4 191.0 L445.3 189.6 L447.2 188.3 L449.5 186.9 L451.8 185.5 L454.1 184.3 L456.5 183.1 L458.8 182.0 L461.1 181.0 L463.4 180.0 L465.7 179.1 L468.1 178.3 L470.4 177.4 L472.7 176.6 L475.0 175.8 L477.3 175.0 L479.7 174.3 L482.0 173.4 L484.3 172.6 L486.6 171.8 L488.9 170.9 L491.4 169.9 L493.9 168.9 L496.3 167.9 L498.8 166.9 L501.2 165.9 L503.7 164.9 L506.1 164.0 L508.6 163.0 L511.1 162.0 L513.5 161.1 L516.0 160.1 L518.4 159.2 L520.9 158.3 L523.3 157.4 L525.8 156.6 L528.3 155.7 L530.7 154.9 L533.2 154.1 L535.7 153.3 L538.2 152.5 L540.7 151.8 L543.2 151.0 L545.8 150.3 L548.3 149.5 L550.9 148.8 L553.4 148.1 L555.9 147.4 L558.3 146.8 L560.8 146.2 L563.2 145.6 L565.6 145.0 L567.9 144.5 L570.2 144.0 L572.5 143.5 L575.3 143.0 L578.1 142.6 L580.8 142.3 L583.5 142.1 L586.1 142.0 L588.7 141.8 L591.2 141.7 L593.7 141.6 L596.2 141.4 L598.6 141.2 L601.1 140.9 L603.5 140.5 L605.9 140.0 L608.5 139.4 L611.1 138.7 L613.7 138.0 L616.2 137.2 L618.8 136.4 L621.3 135.5 L623.7 134.6 L626.1 133.6 L628.5 132.4 L630.8 131.2 L633.0 129.9 L635.1 128.5 L637.2 126.9 L639.3 125.0 L641.4 122.8 L643.5 120.6 L645.5 118.2 L647.4 115.8 L649.2 113.5 L650.9 111.2 L652.4 109.2 L653.8 107.3 L655.0 105.8 L656.0 104.6" stroke="#0072BD" stroke-width="4.6"/><path d="M71.3 396.6 L71.8 394.9 L73.4 392.8 L74.7 392.1 L76.7 391.6 L81.3 390.3 L83.0 389.8 L84.8 389.3 L86.8 388.8 L89.0 388.3 L91.3 387.7 L93.8 387.1 L96.4 386.4 L99.0 385.6 L101.8 384.8 L104.6 383.8 L107.4 382.8 L110.2 381.6 L113.1 380.2 L115.0 379.3 L117.0 378.2 L119.1 377.1 L121.2 375.9 L123.3 374.6 L125.5 373.3 L127.7 371.9 L129.9 370.5 L132.2 369.1 L134.5 367.7 L136.7 366.2 L139.0 364.7" stroke="#77AC30" stroke-width="4.6"/><path d="M139.0 364.7 L141.3 363.1 L143.6 361.6 L145.9 360.1 L148.1 358.5 L150.4 357.0 L152.6 355.5 L154.8 354.0 L156.9 352.6 L159.0 351.1 L161.1 349.6 L163.2 348.1 L165.3 346.6 L167.4 345.0 L169.4 343.5 L171.5 341.9 L173.6 340.3 L175.7 338.7 L177.8 337.2 L179.9 335.6 L182.0 334.0 L184.1 332.5 L186.2 331.0 L188.2 329.5 L190.3 328.1 L192.4 326.7 L194.5 325.3 L196.6 324.0 L198.9 322.6 L201.2 321.2 L203.6 319.8 L205.9 318.5 L208.2 317.2 L210.5 316.0 L212.8 314.8 L215.2 313.6 L217.5 312.4 L219.8 311.2 L222.1 310.1 L224.4 308.9 L226.8 307.8 L229.1 306.7 L231.4 305.5 L233.7 304.4 L236.0 303.3 L238.4 302.1 L240.7 301.0 L243.0 299.9 L245.3 298.7 L247.6 297.6 L250.0 296.5 L252.3 295.4 L254.6 294.4 L256.9 293.3 L259.2 292.2 L261.6 291.1 L263.9 290.1 L266.2 289.0 L268.5 288.0 L270.8 286.9 L273.2 285.9 L275.5 284.9 L277.8 283.9 L280.1 282.8 L282.4 281.8" stroke="#EDB120" stroke-width="4.6"/><path d="M284.8 280.8 L287.1 279.7 L289.4 278.7 L291.7 277.6 L294.0 276.5 L296.4 275.5 L298.7 274.5 L301.0 273.4 L303.3 272.4 L305.6 271.4 L308.0 270.5 L310.3 269.5 L312.6 268.6 L314.9 267.8 L317.2 266.9 L319.6 266.1 L321.9 265.4 L324.3 264.7 L326.8 264.2 L329.3 263.7 L331.7 263.4 L334.2 263.1 L336.6 262.9 L339.1 262.7 L341.5 262.5 L344.0 262.3 L346.5 262.0 L348.9 261.7 L351.4 261.3 L353.8 260.7 L356.3 260.1 L358.7 259.2 L361.2 258.2 L363.7 257.0 L365.5 255.9 L367.4 254.7 L369.3 253.3 L371.2 251.9 L373.1 250.4 L375.0 248.8 L376.9 247.1 L378.8 245.4 L380.7 243.6 L382.6 241.8 L384.5 239.9 L386.4 238.0 L388.3 236.1 L390.2 234.2 L392.1 232.3 L394.0 230.4 L395.9 228.5 L397.8 226.7 L399.7 224.8 L401.6 223.1 L403.5 221.4 L405.4 219.7 L407.4 218.1 L409.4 216.4 L411.4 214.7 L413.4 213.0 L415.4 211.3 L417.3 209.7 L419.3 208.0 L421.3 206.4 L423.3 204.7" stroke="#EDB120" stroke-width="4.6"/><path d="M425.3 203.1 L427.3 201.5 L429.3 199.9 L431.3 198.3 L433.3 196.7 L435.2 195.2 L437.2 193.7 L439.2 192.2 L441.2 190.7 L443.2 189.2 L445.2 187.8 L447.2 186.5 L449.4 185.0 L451.6 183.5 L453.8 182.0 L456.0 180.6 L458.2 179.2 L460.4 177.9 L462.6 176.5 L464.8 175.2 L467.0 173.9 L469.2 172.6 L471.4 171.4 L473.6 170.2 L475.8 169.0 L478.0 167.8 L480.2 166.7 L482.3 165.6 L484.5 164.5 L486.7 163.4 L488.9 162.4 L491.4 161.3 L493.9 160.2 L496.3 159.1 L498.8 158.1 L501.2 157.2 L503.7 156.3 L506.1 155.4 L508.6 154.5 L511.1 153.6 L513.5 152.8 L516.0 152.0 L518.4 151.2 L520.9 150.4 L523.3 149.7 L525.8 148.9 L528.3 148.1 L530.7 147.4 L533.2 146.6 L535.7 145.8 L538.2 145.0 L540.7 144.2 L543.2 143.5 L545.8 142.7 L548.3 141.9 L550.9 141.2 L553.4 140.5 L555.9 139.8 L558.3 139.2 L560.8 138.6 L563.2 138.1 L565.6 137.6 L567.9 137.1 L570.2 136.7 L572.5 136.4 L575.3 136.2 L578.1 136.2 L580.8 136.3 L583.5 136.6 L586.1 137.0 L588.7 137.4 L591.2 137.9 L593.7 138.2 L596.2 138.6 L598.6 138.7 L601.1 138.7 L603.5 138.5 L605.9 138.1 L608.3 137.4 L610.7 136.5 L613.1 135.4 L615.5 134.2 L617.8 132.8 L620.1 131.4 L622.4 129.9 L624.7 128.4 L626.9 126.8 L629.0 125.2 L631.1 123.7 L633.2 122.3 L635.1 120.9 L637.6 119.1 L640.2 117.1 L642.7 115.1 L645.1 113.1 L647.4 111.1 L649.6 109.2 L651.5 107.4 L653.3 105.9 L654.8 104.5 L656.0 103.5" stroke="#EDB120" stroke-width="4.6"/><path d="M71.3 393.5 L71.8 391.8 L73.4 389.7 L74.7 389.1 L76.7 388.6 L81.3 387.2 L83.0 386.6 L84.8 386.0 L86.8 385.4 L89.0 384.7 L91.3 384.0 L93.8 383.2 L96.4 382.3 L99.0 381.4 L101.8 380.4 L104.6 379.4 L107.4 378.3 L110.2 377.1 L113.1 375.8 L115.0 374.9 L117.0 373.9" stroke="#77AC30" stroke-width="4.6"/><path d="M119.1 372.9 L121.2 371.9 L123.3 370.8 L125.5 369.7 L127.7 368.6 L129.9 367.4 L132.2 366.2 L134.5 365.0 L136.7 363.7 L139.0 362.4 L141.3 361.1 L143.6 359.8 L145.9 358.5 L148.1 357.1 L150.4 355.7 L152.6 354.3 L154.8 352.9 L156.9 351.6 L159.0 350.1 L161.1 348.6 L163.2 347.1 L165.3 345.5 L167.4 343.9 L169.4 342.3 L171.5 340.6 L173.6 339.0 L175.7 337.3 L177.8 335.7 L179.9 334.0 L182.0 332.4 L184.1 330.8 L186.2 329.2 L188.2 327.7 L190.3 326.2 L192.4 324.7 L194.5 323.3 L196.6 322.0 L198.9 320.6 L201.2 319.2 L203.6 317.9 L205.9 316.7 L208.2 315.5 L210.5 314.3 L212.8 313.2 L215.2 312.1 L217.5 311.0 L219.8 309.9 L222.1 308.9 L224.4 307.8 L226.8 306.7 L229.1 305.7 L231.4 304.6 L233.7 303.5 L236.0 302.3 L238.4 301.1 L240.7 299.9 L243.0 298.7 L245.3 297.4 L247.6 296.1 L250.0 294.8 L252.3 293.5 L254.6 292.2 L256.9 290.8 L259.2 289.5 L261.6 288.2 L263.9 286.9 L266.2 285.7 L268.5 284.4 L270.8 283.2 L273.2 282.0 L275.5 280.9 L277.8 279.8 L280.1 278.8 L282.6 277.8 L285.0 276.8 L287.5 275.9 L289.9 275.0 L292.4 274.2 L294.9 273.4" stroke="#EDB120" stroke-width="4.6"/><path d="M294.9 273.4 L297.3 272.6 L299.8 271.9 L302.2 271.1 L304.7 270.4 L307.1 269.7 L309.6 269.0 L312.1 268.3 L314.5 267.6 L317.0 266.9 L319.4 266.1 L321.9 265.4 L324.3 264.7 L326.8 264.0 L329.3 263.4 L331.7 262.9 L334.2 262.4 L336.6 261.8 L339.1 261.3 L341.5 260.8 L344.0 260.2 L346.5 259.6 L348.9 259.0 L351.4 258.2 L353.8 257.4 L356.3 256.5 L358.7 255.5 L361.2 254.3 L363.7 253.0 L365.6 251.8 L367.6 250.5 L369.6 249.1 L371.6 247.7 L373.6 246.2 L375.6 244.6 L377.6 242.9 L379.6 241.2 L381.5 239.5 L383.5 237.7 L385.5 235.9 L387.5 234.1 L389.5 232.2 L391.5 230.4 L393.5 228.5 L395.5 226.7 L397.5 224.9 L399.4 223.1 L401.4 221.4 L403.4 219.7 L405.4 218.0 L407.4 216.4 L409.4 214.7 L411.4 213.1 L413.4 211.4 L415.4 209.8 L417.3 208.1 L419.3 206.4 L421.3 204.8 L423.3 203.1 L425.3 201.5 L427.3 199.8 L429.3 198.2 L431.3 196.6 L433.3 195.0 L435.2 193.4 L437.2 191.9 L439.2 190.4 L441.2 188.9" stroke="#D95319" stroke-width="4.6"/><path d="M441.2 188.9 L443.2 187.4 L445.2 186.0 L447.2 184.6 L449.4 183.1 L451.6 181.6 L453.8 180.1 L456.0 178.7 L458.2 177.2 L460.4 175.8 L462.6 174.5 L464.8 173.1 L467.0 171.8 L469.2 170.5 L471.4 169.3 L473.6 168.0 L475.8 166.8 L478.0 165.6 L480.2 164.4 L482.3 163.3 L484.5 162.2 L486.7 161.1 L488.9 160.0 L491.4 158.9 L493.9 157.8 L496.3 156.8 L498.8 155.7 L501.2 154.8 L503.7 153.8 L506.1 152.9 L508.6 152.0 L511.1 151.1 L513.5 150.3 L516.0 149.5 L518.4 148.7 L520.9 147.9 L523.3 147.1 L525.8 146.4 L528.3 145.6 L530.7 144.9 L533.2 144.1 L535.7 143.4 L538.2 142.7 L540.7 142.0 L543.2 141.3 L545.8 140.6 L548.3 140.0 L550.9 139.3 L553.4 138.7 L555.9 138.1 L558.3 137.5 L560.8 137.0 L563.2 136.5 L565.6 135.9 L567.9 135.5 L570.2 135.0 L572.5 134.6 L575.3 134.1 L578.1 133.7 L580.8 133.4 L583.5 133.2 L586.1 133.0 L588.7 132.9 L591.2 132.8 L593.7 132.6 L596.2 132.4 L598.6 132.1 L601.1 131.7 L603.5 131.2 L605.9 130.5 L608.3 129.7 L610.7 128.9 L613.1 127.9 L615.5 126.8 L617.8 125.7 L620.1 124.6 L622.4 123.3 L624.7 122.1 L626.9 120.8 L629.0 119.5 L631.1 118.1 L633.2 116.8 L635.1 115.5 L637.4 113.8 L639.7 112.0 L642.0 110.1 L644.2 108.0 L646.4 106.0 L648.4 104.0 L650.3 102.1 L652.0 100.3 L653.6 98.8 L654.9 97.4 L656.0 96.4" stroke="#D95319" stroke-width="4.6"/><path d="M71.3 390.4 L71.8 388.7 L73.4 386.6 L74.7 386.0 L76.7 385.6 L81.3 384.1 L83.0 383.5 L84.8 382.8 L86.8 382.1 L89.0 381.3 L91.3 380.5 L93.8 379.6 L96.4 378.7 L99.0 377.7 L101.8 376.6 L104.6 375.5 L107.4 374.3 L110.2 373.0 L113.1 371.7 L115.0 370.7 L117.0 369.7 L119.1 368.7 L121.2 367.6 L123.3 366.5 L125.5 365.4 L127.7 364.3 L129.9 363.1 L132.2 361.8" stroke="#D95319" stroke-width="4.6"/><path d="M132.2 361.8 L134.5 360.6 L136.7 359.3 L139.0 358.1 L141.3 356.7 L143.6 355.4 L145.9 354.1 L148.1 352.7 L150.4 351.3 L152.6 350.0 L154.8 348.6 L156.9 347.2 L159.0 345.8 L161.1 344.3 L163.2 342.8 L165.3 341.3 L167.4 339.7 L169.4 338.1 L171.5 336.5 L173.6 334.9 L175.7 333.2 L177.8 331.6 L179.9 330.0 L182.0 328.4 L184.1 326.9 L186.2 325.4 L188.2 323.9 L190.3 322.5 L192.4 321.1 L194.5 319.8 L196.6 318.5 L198.9 317.2 L201.2 316.0 L203.6 314.8 L205.9 313.7 L208.2 312.6 L210.5 311.6 L212.8 310.7 L215.2 309.7 L217.5 308.8 L219.8 307.9 L222.1 307.0 L224.4 306.0 L226.8 305.1 L229.1 304.2 L231.4 303.2 L233.7 302.2 L236.0 301.2 L238.4 300.1 L240.7 299.0 L243.0 297.9 L245.3 296.7 L247.6 295.5 L250.0 294.3 L252.3 293.1 L254.6 291.8 L256.9 290.6 L259.2 289.4 L261.6 288.1 L263.9 286.9 L266.2 285.7 L268.5 284.5 L270.8 283.3 L273.2 282.1 L275.5 281.0 L277.8 279.9 L280.1 278.8" stroke="#EDB120" stroke-width="4.6"/><path d="M282.6 277.7 L285.0 276.6 L287.5 275.5 L289.9 274.4 L292.4 273.4 L294.9 272.3 L297.3 271.3 L299.8 270.3 L302.2 269.3 L304.7 268.3 L307.1 267.4 L309.6 266.4 L312.1 265.5 L314.5 264.7 L317.0 263.8 L319.4 263.0 L321.9 262.2 L324.3 261.5 L326.8 260.9 L329.3 260.5 L331.7 260.1 L334.2 259.7 L336.6 259.4 L339.1 259.2 L341.5 258.9 L344.0 258.6 L346.5 258.2 L348.9 257.8 L351.4 257.3 L353.8 256.7 L356.3 256.0 L358.7 255.1 L361.2 254.0 L363.7 252.8 L365.5 251.7 L367.4 250.5 L369.3 249.2 L371.2 247.8 L373.1 246.3 L375.0 244.7 L376.9 243.1 L378.8 241.4 L380.7 239.6 L382.6 237.9 L384.5 236.0 L386.4 234.2 L388.3 232.3 L390.2 230.5 L392.1 228.6 L394.0 226.8 L395.9 224.9 L397.8 223.1 L399.7 221.3 L401.6 219.6 L403.5 217.9 L405.4 216.3 L407.4 214.6 L409.4 212.9 L411.4 211.3 L413.4 209.6 L415.4 207.9 L417.3 206.2 L419.3 204.5 L421.3 202.9 L423.3 201.2 L425.3 199.6 L427.3 197.9 L429.3 196.3 L431.3 194.7 L433.3 193.1 L435.2 191.6" stroke="#EDB120" stroke-width="4.6"/><path d="M435.2 191.6 L437.2 190.0 L439.2 188.5 L441.2 187.0 L443.2 185.5 L445.2 184.1 L447.2 182.7 L449.4 181.2 L451.6 179.6 L453.8 178.2 L456.0 176.7 L458.2 175.3 L460.4 173.8 L462.6 172.4 L464.8 171.1 L467.0 169.7 L469.2 168.4 L471.4 167.1 L473.6 165.8 L475.8 164.6 L478.0 163.4 L480.2 162.2 L482.3 161.0 L484.5 159.9 L486.7 158.8 L488.9 157.7 L491.4 156.6 L493.9 155.4 L496.3 154.4 L498.8 153.3 L501.2 152.3 L503.7 151.4 L506.1 150.4 L508.6 149.5 L511.1 148.7 L513.5 147.8 L516.0 147.0 L518.4 146.2 L520.9 145.4 L523.3 144.6 L525.8 143.9 L528.3 143.1 L530.7 142.4 L533.2 141.7 L535.7 141.0 L538.2 140.3 L540.7 139.6 L543.2 139.0 L545.8 138.4 L548.3 137.8 L550.9 137.2 L553.4 136.6 L555.9 136.1 L558.3 135.5 L560.8 135.0 L563.2 134.5 L565.6 134.0 L567.9 133.6 L570.2 133.1 L572.5 132.7 L575.3 132.2 L578.1 131.7 L580.8 131.4 L583.5 131.1 L586.1 130.9 L588.7 130.6 L591.2 130.4 L593.7 130.1 L596.2 129.8 L598.6 129.4 L601.1 128.9 L603.5 128.2 L605.9 127.5 L608.3 126.6 L610.7 125.6 L613.1 124.5 L615.5 123.3 L617.8 122.0 L620.1 120.7 L622.4 119.3 L624.7 117.9 L626.9 116.5 L629.0 115.0 L631.1 113.6 L633.2 112.2 L635.1 110.9 L637.4 109.2 L639.7 107.4 L642.0 105.5 L644.2 103.6 L646.4 101.6 L648.4 99.7 L650.3 97.9 L652.0 96.3 L653.6 94.8 L654.9 93.5 L656.0 92.6" stroke="#EDB120" stroke-width="4.6"/><path d="M71.3 388.4 L71.8 386.7 L73.4 384.6 L74.7 384.1 L76.7 383.7 L81.3 382.1 L83.0 381.4 L84.8 380.7 L86.8 379.8 L89.0 378.9 L91.3 377.9 L93.8 376.9 L96.4 375.8 L99.0 374.7 L101.8 373.5 L104.6 372.3 L107.4 371.1 L110.2 369.8 L113.1 368.5 L115.1 367.6 L117.3 366.6 L119.4 365.7 L121.7 364.7 L123.9 363.7 L126.2 362.7 L128.6 361.7 L130.9 360.6 L133.3 359.6 L135.7 358.5 L138.1 357.3 L140.5 356.2 L142.9 355.0 L145.4 353.7 L147.8 352.5" stroke="#77AC30" stroke-width="4.6"/><path d="M147.8 352.5 L150.1 351.1 L152.5 349.8 L154.8 348.4 L156.9 347.1 L159.0 345.6 L161.1 344.2 L163.2 342.6 L165.3 341.1 L167.4 339.4 L169.4 337.8 L171.5 336.1 L173.6 334.4 L175.7 332.7 L177.8 331.0 L179.9 329.3 L182.0 327.6 L184.1 325.9 L186.2 324.3 L188.2 322.7 L190.3 321.2 L192.4 319.7 L194.5 318.3 L196.6 317.0 L198.9 315.6 L201.2 314.3 L203.6 313.0 L205.9 311.8 L208.2 310.7 L210.5 309.6 L212.8 308.5 L215.2 307.4 L217.5 306.4 L219.8 305.4 L222.1 304.4 L224.4 303.4 L226.8 302.4 L229.1 301.4 L231.4 300.4 L233.7 299.3 L236.0 298.2 L238.4 297.0 L240.7 295.8 L243.0 294.6 L245.3 293.4 L247.6 292.1 L250.0 290.8 L252.3 289.4 L254.6 288.1 L256.9 286.8 L259.2 285.5 L261.6 284.2 L263.9 282.9 L266.2 281.6 L268.5 280.4 L270.8 279.2 L273.2 278.0 L275.5 276.9 L277.8 275.8 L280.1 274.8 L282.6 273.8 L285.0 272.9 L287.5 272.0 L289.9 271.2 L292.4 270.4" stroke="#D95319" stroke-width="4.6"/><path d="M292.4 270.4 L294.9 269.7 L297.3 268.9 L299.8 268.2 L302.2 267.6 L304.7 266.9 L307.1 266.3 L309.6 265.6 L312.1 265.0 L314.5 264.3 L317.0 263.6 L319.4 262.9 L321.9 262.2 L324.3 261.5 L326.8 260.9 L329.3 260.3 L331.7 259.7 L334.2 259.2 L336.6 258.7 L339.1 258.2 L341.5 257.6 L344.0 257.1 L346.5 256.5 L348.9 255.8 L351.4 255.0 L353.8 254.2 L356.3 253.3 L358.7 252.2 L361.2 251.0 L363.7 249.7 L365.6 248.5 L367.6 247.2 L369.6 245.9 L371.6 244.4 L373.6 242.9 L375.6 241.3 L377.6 239.6 L379.6 237.9 L381.5 236.2 L383.5 234.4 L385.5 232.6 L387.5 230.8 L389.5 228.9 L391.5 227.1 L393.5 225.2 L395.5 223.4 L397.5 221.6 L399.4 219.8 L401.4 218.0 L403.4 216.2 L405.4 214.6 L407.4 212.9 L409.4 211.2 L411.4 209.5 L413.4 207.7 L415.4 206.0 L417.3 204.2 L419.3 202.5 L421.3 200.7 L423.3 199.0 L425.3 197.3 L427.3 195.5" stroke="#EDB120" stroke-width="4.6"/><path d="M427.3 195.5 L429.3 193.8 L431.3 192.1 L433.3 190.4 L435.2 188.8 L437.2 187.2 L439.2 185.6 L441.2 184.0 L443.2 182.5 L445.2 181.0 L447.2 179.6 L449.4 178.1 L451.6 176.5 L453.8 175.1 L456.0 173.6 L458.2 172.2 L460.4 170.9 L462.6 169.5 L464.8 168.2 L467.0 166.9 L469.2 165.6 L471.4 164.4 L473.6 163.2 L475.8 162.0 L478.0 160.9 L480.2 159.7 L482.3 158.6 L484.5 157.5 L486.7 156.4 L488.9 155.4 L491.4 154.2 L493.9 153.1 L496.3 152.0 L498.8 151.0 L501.2 150.0 L503.7 149.0 L506.1 148.1 L508.6 147.1 L511.1 146.2 L513.5 145.4 L516.0 144.5 L518.4 143.7 L520.9 142.9 L523.3 142.1 L525.8 141.4 L528.3 140.6 L530.7 139.9 L533.2 139.2 L535.7 138.5 L538.2 137.9 L540.7 137.3 L543.2 136.7 L545.8 136.1 L548.3 135.6 L550.9 135.0 L553.4 134.5 L555.9 134.0 L558.3 133.5 L560.8 133.1 L563.2 132.6 L565.6 132.2 L567.9 131.7 L570.2 131.2 L572.5 130.8 L575.3 130.2 L578.1 129.8 L580.8 129.4 L583.5 129.0 L586.1 128.7 L588.7 128.4 L591.2 128.0 L593.7 127.6 L596.2 127.2 L598.6 126.6 L601.1 126.0 L603.5 125.3 L605.9 124.4 L608.3 123.4 L610.7 122.3 L613.1 121.0 L615.5 119.7 L617.8 118.3 L620.1 116.8 L622.4 115.3 L624.7 113.8 L626.9 112.2 L629.0 110.7 L631.1 109.2 L633.2 107.7 L635.1 106.2 L637.4 104.5 L639.7 102.6 L642.0 100.7 L644.2 98.7 L646.4 96.8 L648.4 94.8 L650.3 93.0 L652.0 91.4 L653.6 89.9 L654.9 88.6 L656.0 87.6" stroke="#EDB120" stroke-width="4.6"/><path d="M71.3 384.4 L71.8 382.7 L73.4 380.6 L74.7 380.1 L76.7 379.6 L81.3 378.1 L83.0 377.4 L84.8 376.7 L86.8 375.9 L89.0 375.1 L91.3 374.1 L93.8 373.2 L96.4 372.1 L99.0 371.0 L101.8 369.9 L104.6 368.7 L107.4 367.5 L110.2 366.2 L113.1 365.0 L115.1 364.0 L117.3 363.0 L119.4 362.0 L121.7 361.0 L123.9 360.0 L126.2 358.9" stroke="#7E2F8E" stroke-width="4.6"/><path d="M126.2 358.9 L128.6 357.8 L130.9 356.7 L133.3 355.6 L135.7 354.4 L138.1 353.2 L140.5 352.0 L142.9 350.7 L145.4 349.5 L147.8 348.1 L150.1 346.8 L152.5 345.4 L154.8 344.0 L156.9 342.7 L159.0 341.3 L161.1 339.8 L163.2 338.3 L165.3 336.8 L167.4 335.2 L169.4 333.6 L171.5 332.0 L173.6 330.3 L175.7 328.7 L177.8 327.0 L179.9 325.4 L182.0 323.7 L184.1 322.1 L186.2 320.5 L188.2 319.0 L190.3 317.5 L192.4 316.1 L194.5 314.7 L196.6 313.4 L198.9 312.0 L201.2 310.7 L203.6 309.5 L205.9 308.3 L208.2 307.1 L210.5 305.9 L212.8 304.8 L215.2 303.8 L217.5 302.7 L219.8 301.7 L222.1 300.7 L224.4 299.6 L226.8 298.6 L229.1 297.6 L231.4 296.6 L233.7 295.6 L236.0 294.5 L238.4 293.5 L240.7 292.4 L243.0 291.3 L245.3 290.3 L247.6 289.2 L250.0 288.1 L252.3 287.0 L254.6 286.0 L256.9 284.9 L259.2 283.9 L261.6 282.8 L263.9 281.8 L266.2 280.7 L268.5 279.7 L270.8 278.7 L273.2 277.7 L275.5 276.7 L277.8 275.7" stroke="#7E2F8E" stroke-width="4.6"/><path d="M280.1 274.7 L282.6 273.7 L285.0 272.7 L287.5 271.7 L289.9 270.7 L292.4 269.7 L294.9 268.7 L297.3 267.8 L299.8 266.8 L302.2 265.9 L304.7 265.0 L307.1 264.0 L309.6 263.1 L312.1 262.2 L314.5 261.3 L317.0 260.5 L319.4 259.6 L321.9 258.8 L324.3 258.0 L326.8 257.3 L329.3 256.7 L331.7 256.2 L334.2 255.7 L336.6 255.2 L339.1 254.7 L341.5 254.2 L344.0 253.7 L346.5 253.2 L348.9 252.5 L351.4 251.8 L353.8 251.1 L356.3 250.2 L358.7 249.1 L361.2 247.9 L363.7 246.6 L365.5 245.4 L367.4 244.2 L369.3 242.8 L371.2 241.4 L373.1 239.9 L375.0 238.3 L376.9 236.7 L378.8 235.0 L380.7 233.3 L382.6 231.5 L384.5 229.7 L386.4 227.9 L388.3 226.0 L390.2 224.2 L392.1 222.4 L394.0 220.5 L395.9 218.7 L397.8 216.9 L399.7 215.2 L401.6 213.5 L403.5 211.8 L405.4 210.2 L407.4 208.5 L409.4 206.9 L411.4 205.2 L413.4 203.5 L415.4 201.9 L417.3 200.2 L419.3 198.6" stroke="#7E2F8E" stroke-width="4.6"/><path d="M419.3 198.6 L421.3 196.9 L423.3 195.3 L425.3 193.7 L427.3 192.1 L429.3 190.5 L431.3 188.9 L433.3 187.3 L435.2 185.8 L437.2 184.2 L439.2 182.7 L441.2 181.2 L443.2 179.8 L445.2 178.4 L447.2 177.0 L449.4 175.4 L451.6 173.9 L453.8 172.4 L456.0 171.0 L458.2 169.5 L460.4 168.1 L462.6 166.7 L464.8 165.3 L467.0 163.9 L469.2 162.6 L471.4 161.3 L473.6 160.0 L475.8 158.8 L478.0 157.5 L480.2 156.3 L482.3 155.2 L484.5 154.0 L486.7 152.9 L488.9 151.8 L491.4 150.7 L493.9 149.5 L496.3 148.5 L498.8 147.4 L501.2 146.4 L503.7 145.5 L506.1 144.6 L508.6 143.7 L511.1 142.8 L513.5 142.0 L516.0 141.1 L518.4 140.3 L520.9 139.6 L523.3 138.8 L525.8 138.0 L528.3 137.3 L530.7 136.6 L533.2 135.9 L535.7 135.2 L538.2 134.5 L540.7 133.9 L543.2 133.2 L545.8 132.6 L548.3 132.1 L550.9 131.5 L553.4 131.0 L555.9 130.4 L558.3 129.9 L560.8 129.4 L563.2 128.9 L565.6 128.4 L567.9 128.0 L570.2 127.5 L572.5 127.0 L575.3 126.5 L578.1 126.0 L580.8 125.6 L583.5 125.3 L586.1 125.0 L588.7 124.7 L591.2 124.4 L593.7 124.0 L596.2 123.6 L598.6 123.1 L601.1 122.5 L603.5 121.7 L605.9 120.9 L608.3 119.8 L610.7 118.7 L613.1 117.4 L615.5 116.1 L617.8 114.6 L620.1 113.1 L622.4 111.6 L624.7 110.0 L626.9 108.4 L629.0 106.8 L631.1 105.3 L633.2 103.7 L635.1 102.2 L637.4 100.4 L639.7 98.5 L642.0 96.4 L644.2 94.4 L646.4 92.3 L648.4 90.3 L650.3 88.4 L652.0 86.7 L653.6 85.1 L654.9 83.8 L656.0 82.7" stroke="#7E2F8E" stroke-width="4.6"/><path d="M71.3 386.3 L71.8 384.2 L73.4 381.7 L75.6 380.4 L78.4 379.2 L81.3 378.1 L84.1 376.9 L87.0 375.7 L90.0 374.4 L92.3 373.4 L94.6 372.4 L96.9 371.3 L99.2 370.3 L102.3 369.1 L105.3 367.8 L108.4 366.7 L111.5 365.6 L114.6 364.6 L117.7 363.5 L119.9 362.5 L122.1 361.4 L124.3 360.3 L126.9 358.9 L129.3 357.8 L131.8 356.5 L134.4 355.1 L137.2 353.6 L140.0 352.1" stroke="#77AC30" stroke-width="4.6"/><path d="M142.3 350.8 L144.8 349.5 L147.3 348.1 L149.8 346.7 L152.3 345.1 L154.8 343.5 L157.0 341.9 L159.2 340.2 L161.4 338.4 L163.5 336.6 L165.6 334.9 L167.7 333.2 L169.5 331.6 L171.9 329.7 L174.0 327.9 L176.0 326.2 L178.0 324.6 L180.0 323.0 L182.0 321.4 L184.0 319.8 L186.0 318.3 L188.0 316.9 L190.0 315.4 L192.3 313.7 L194.4 312.1 L196.8 310.5 L200.0 308.7 L202.0 307.7 L204.3 306.6 L206.8 305.5 L209.4 304.3 L212.1 303.2 L214.8 302.0 L217.4 300.9 L220.0 299.8 L222.4 298.7 L224.8 297.8 L227.1 296.9 L229.4 296.0 L231.8 295.0 L234.3 294.0 L237.0 292.8 L240.0 291.6 L242.0 290.7 L244.2 289.7 L246.6 288.7 L249.0 287.5 L251.5 286.4 L254.1 285.2 L256.6 284.1 L259.1 282.9 L261.6 281.8 L263.9 280.7 L266.1 279.8 L268.2 278.9 L270.0 278.1 L273.4 276.8 L276.1 275.8 L278.4 275.0 L280.5 274.3 L282.6 273.7 L285.0 272.9 L287.4 272.1 L289.7 271.2" stroke="#77AC30" stroke-width="4.6"/><path d="M292.1 270.4 L294.5 269.6 L297.1 268.6 L300.0 267.6 L302.1 266.9 L304.3 266.2 L306.6 265.4 L308.9 264.6 L311.4 263.8 L313.9 262.9 L316.5 262.0 L319.1 261.1 L321.9 260.2 L324.3 259.3 L326.8 258.4 L329.6 257.5 L332.3 256.5 L335.2 255.5 L338.0 254.5 L340.7 253.5 L343.4 252.5 L345.8 251.7 L348.0 250.9 L350.0 250.1 L353.9 248.7 L356.6 247.8 L358.7 246.9 L361.1 245.8 L363.3 244.6 L365.5 243.2 L367.7 241.8 L369.9 240.2 L372.1 238.6 L374.3 236.8 L376.5 234.9 L378.7 233.0 L381.0 230.9 L383.2 228.8 L385.0 226.9 L386.9 224.9 L388.8 222.9 L390.6 220.9 L392.5 218.9 L394.3 217.0 L396.2 215.2 L398.0 213.3 L399.9 211.5 L401.8 209.8 L403.6 208.1 L405.4 206.4 L407.5 204.6 L409.5 202.8 L411.5 201.1 L413.4 199.4 L415.4 197.8 L417.4 196.2 L419.4 194.6 L421.4 193.1 L423.5 191.6 L425.5 190.1 L427.7 188.5 L429.9 186.9 L432.1 185.4 L434.3 183.8 L436.6 182.3" stroke="#77AC30" stroke-width="4.6"/><path d="M436.6 182.3 L438.8 180.8 L441.0 179.4 L443.2 177.9 L445.5 176.5 L447.7 175.0 L449.9 173.6 L452.1 172.3 L454.3 170.9 L456.5 169.5 L458.7 168.2 L460.9 166.9 L463.2 165.6 L465.4 164.4 L467.7 163.1 L469.8 161.8 L472.3 160.3 L474.7 158.8 L477.2 157.2 L480.0 155.5 L482.2 154.1 L484.5 152.7 L487.0 151.1 L489.6 149.6 L492.1 148.2 L494.6 146.8 L497.1 145.6 L499.5 144.5 L501.9 143.4 L504.4 142.4 L506.8 141.4 L509.2 140.4 L511.7 139.6 L514.1 138.7 L516.5 138.0 L518.9 137.2 L521.3 136.5 L523.8 135.8 L526.2 135.1 L528.6 134.5 L531.1 133.9 L533.5 133.3 L536.0 132.7 L538.4 132.2 L541.2 131.6 L544.0 131.0 L546.8 130.5 L549.8 129.9 L553.0 129.2 L555.6 128.7 L558.6 128.1 L561.6 127.4 L564.7 126.7 L567.6 126.1 L570.3 125.5 L572.5 125.0 L575.7 124.2 L577.5 123.8 L580.0 123.1 L582.2 122.6 L584.7 122.0 L587.4 121.3 L590.2 120.6 L592.9 120.0 L595.4 119.4 L598.0 118.8 L600.6 118.2 L603.2 117.5 L605.8 116.8 L608.5 115.8 L611.3 114.8 L614.0 113.7 L616.6 112.6 L618.7 111.6 L622.4 109.7 L625.2 107.8 L627.3 105.9 L629.5 103.9 L631.7 102.0 L633.8 100.7 L636.0 99.5 L638.1 98.1 L640.3 96.2 L642.4 93.9 L644.6 91.6 L646.2 89.7 L647.9 87.6 L649.6 85.6 L651.1 83.9 L653.9 81.1 L656.0 79.3" stroke="#77AC30" stroke-width="4.6"/><path d="M238.4 327.1 C245.3 321.8 266.5 304.2 280.1 295.2 C293.7 286.2 307.3 278.7 320.0 272.9 C332.8 267.1 346.1 264.8 356.9 260.6 C367.6 256.4 376.8 251.5 384.5 247.9 C392.2 244.2 397.1 241.7 403.0 238.8 C408.8 235.9 412.2 235.6 419.6 230.6 C427.0 225.6 435.6 218.3 447.2 208.7 C458.7 199.2 475.0 180.3 488.9 173.2 C502.9 166.2 516.8 169.0 530.7 166.4 C544.6 163.8 559.9 159.9 572.5 157.7 C585.0 155.5 595.4 154.7 605.9 153.2 C616.3 151.7 626.8 152.1 635.1 148.6 C643.5 145.1 652.5 135.0 656.0 132.3" stroke="#7E2F8E" stroke-width="4.6"/><path d="M238.4 320.7 C245.3 315.8 266.5 299.8 280.1 291.1 C293.7 282.5 308.8 274.0 320.0 268.8 C331.3 263.6 338.5 262.6 347.7 259.7 C356.9 256.8 367.7 253.9 375.4 251.5 C383.1 249.1 386.4 248.0 393.8 245.1 C401.2 242.3 410.7 239.2 419.6 234.2 C428.5 229.2 435.6 221.8 447.2 215.1 C458.7 208.4 475.0 198.6 488.9 194.2 C502.9 189.7 516.8 190.5 530.7 188.2 C544.6 186.0 559.9 183.1 572.5 180.5 C585.0 177.9 595.4 176.0 605.9 172.8 C616.3 169.6 626.8 170.1 635.1 161.4 C643.5 152.7 652.5 127.2 656.0 120.4" stroke="#4DBEEE" stroke-width="4.6"/><path d="M369.2 272.5 L372.9 270.8 L375.8 269.4 L378.3 268.1 L380.3 266.8 L382.1 265.6 L383.8 264.3 L385.6 263.0 L387.7 261.5 L389.9 260.0 L392.2 258.4 L394.3 256.8 L396.5 255.2 L398.7 253.5 L400.9 251.8 L403.1 250.1 L405.4 248.3 L407.5 246.8 L409.5 245.4 L411.6 243.9 L413.7 242.5 L415.8 241.0 L417.9 239.4 L420.1 237.6 L422.3 235.6 L424.6 233.3 L426.1 231.7 L427.5 229.9 L428.9 228.1 L430.3 226.1 L431.6 224.1 L433.0 222.0 L434.5 219.8 L436.0 217.7 L437.6 215.5 L439.2 213.3 L441.0 211.2 L442.9 209.1 L445.0 207.0 L447.2 205.1 L448.9 203.7 L450.8 202.2 L452.7 200.8 L454.7 199.4 L456.8 198.0 L458.9 196.6 L461.2 195.2 L463.4 193.8 L465.7 192.4 L468.0 191.0 L470.4 189.6 L472.7 188.3 L475.1 187.0 L477.5 185.7 L479.8 184.4 L482.1 183.2 L484.5 181.9 L486.7 180.7 L488.9 179.6 L491.3 178.4 L493.6 177.2 L495.9 176.1 L498.2 174.9 L500.5 173.8 L502.9 172.7 L505.2 171.6 L507.5 170.6 L509.8 169.5 L512.1 168.6 L514.5 167.6 L516.8 166.7 L519.1 165.8 L521.4 164.9 L523.7 164.1 L526.1 163.3 L528.4 162.5 L530.7 161.8 L533.3 161.1 L536.0 160.5 L538.7 159.9 L541.3 159.4 L544.0 159.0 L546.7 158.6 L549.4 158.2 L552.1 157.9 L554.8 157.6 L557.4 157.3 L560.0 156.9 L562.6 156.6 L565.2 156.3 L567.7 155.9 L570.1 155.5 L572.5 155.0 L575.3 154.4 L578.1 153.7 L580.8 153.0 L583.5 152.2 L586.1 151.4 L588.7 150.6 L591.2 149.9 L593.7 149.1 L596.2 148.4 L598.6 147.7 L601.1 147.0 L603.5 146.4 L605.9 145.9 L608.7 145.5 L611.6 145.6 L614.4 145.8 L617.2 146.2 L619.9 146.6 L622.6 146.8 L625.3 146.8 L627.9 146.5 L630.4 145.7 L632.8 144.4 L635.1 142.3 L636.3 140.9 L637.4 139.2 L638.6 137.3 L639.7 135.2 L640.8 132.9 L642.0 130.4 L643.1 127.8 L644.2 125.1 L645.3 122.3 L646.4 119.4 L647.4 116.5 L648.4 113.7 L649.4 110.8 L650.3 108.1 L651.2 105.4 L652.0 102.8 L652.8 100.4 L653.6 98.1 L654.3 96.0 L654.9 94.2 L655.5 92.6 L656.0 91.3" stroke="#77AC30" stroke-width="4.6" stroke-linecap="butt"/><path d="M363.7 277.9 L366.8 276.2 L369.2 274.5 L371.0 272.7 L372.5 270.8 L373.9 269.0 L375.2 267.1 L376.7 265.2 L378.5 263.3 L380.4 261.7 L382.4 260.0 L384.4 258.4 L386.4 256.7 L388.5 255.0 L390.6 253.4 L392.7 251.7 L394.8 250.0 L396.9 248.3 L398.9 246.7 L400.8 245.0 L402.6 243.3 L404.4 241.7 L406.3 240.0 L408.3 238.3 L410.4 236.7 L412.8 235.0 L415.4 233.3 L417.3 232.2 L419.2 231.1 L421.2 230.1 L423.3 229.0 L425.4 227.9 L427.6 226.8 L429.9 225.7 L432.2 224.6 L434.6 223.5 L437.0 222.4 L439.5 221.3 L442.0 220.1 L444.6 219.0 L447.2 217.8 L449.3 216.9 L451.4 215.9 L453.6 214.9 L455.8 213.9 L458.1 212.8 L460.4 211.7" stroke="#EDB120" stroke-width="4.6" stroke-linecap="butt"/><path d="M460.4 211.7 L462.7 210.6 L465.1 209.6 L467.4 208.5 L469.8 207.4 L472.2 206.4 L474.7 205.4 L477.1 204.5 L479.5 203.6 L481.9 202.7 L484.2 201.9 L486.6 201.2 L488.9 200.5 L491.6 199.9 L494.2 199.4 L496.8 198.9 L499.4 198.5 L502.0 198.2 L504.6 198.0 L507.2 197.8 L509.8 197.6 L512.4 197.4 L515.0 197.3 L517.7 197.1 L520.3 196.9 L522.9 196.8 L525.5 196.5 L528.1 196.3 L530.7 196.0 L533.3 195.6 L536.0 195.3 L538.7 194.9 L541.3 194.6 L544.0 194.2 L546.7 193.8 L549.4 193.4 L552.1 193.0 L554.8 192.6 L557.4 192.2 L560.0 191.8 L562.6 191.4 L565.2 190.9 L567.7 190.5 L570.1 190.1 L572.5 189.6 L575.3 189.0 L578.1 188.4 L580.8 187.7 L583.5 187.0 L586.1 186.3 L588.7 185.6 L591.2 184.9 L593.7 184.3 L596.2 183.6 L598.6 183.0 L601.1 182.4 L603.5 181.9 L605.9 181.4 L608.7 181.1 L611.6 181.0 L614.4 181.0 L617.2 181.2 L619.9 181.4 L622.6 181.5 L625.3 181.5 L627.9 181.3 L630.4 180.8 L632.8 180.0 L635.1 178.7 L636.9 177.3 L638.7 175.5 L640.5 173.4 L642.3 171.0 L644.0 168.4 L645.7 165.8 L647.4 163.0 L648.9 160.3 L650.4 157.7 L651.8 155.1 L653.1 152.8 L654.2 150.8 L655.2 149.1 L656.0 147.7" stroke="#D95319" stroke-width="4.6"/><path d="M358.4 275.9 L360.6 273.8 L362.4 272.2 L364.2 270.4 L365.9 268.6 L367.7 266.7 L369.6 264.7 L371.5 262.8 L373.4 260.8 L375.4 258.8 L377.3 257.1 L379.3 255.3 L381.4 253.6 L383.5 251.8 L385.7 250.0 L387.8 248.2 L389.9 246.3 L391.9 244.4 L393.8 242.4 L395.6 240.3 L397.4 238.0 L399.1 235.7 L400.8 233.3 L402.5 230.9 L404.1 228.6 L405.6 226.3 L407.1 224.2 L408.6 222.4 L410.5 220.1 L411.9 218.4 L413.3 216.9 L414.9 215.4 L416.9 213.5" stroke="#D95319" stroke-width="4.6" stroke-linecap="butt"/><path d="M419.6 211.0 L421.0 209.7 L422.6 208.3 L424.2 206.9 L425.9 205.4 L427.7 203.8 L429.5 202.1 L431.5 200.4 L433.5 198.6 L435.6 196.9 L437.8 195.1 L440.0 193.2 L442.4 191.4 L444.7 189.6 L447.2 187.8 L449.0 186.4 L451.0 185.0 L453.0 183.6 L455.0 182.1 L457.2 180.6 L459.3 179.1 L461.5 177.5 L463.8 176.0 L466.0 174.4 L468.3 172.9 L470.6 171.3 L472.9 169.8 L475.3 168.4 L477.6 166.9 L479.9 165.5" stroke="#EDB120" stroke-width="4.6"/><path d="M71.3 460.0 C71.9 459.4 71.9 457.4 74.6 456.4 C77.4 455.3 81.6 455.0 88.0 453.6 C94.4 452.3 101.9 451.8 113.1 448.2 C124.2 444.5 144.4 437.4 154.8 431.8 C165.3 426.2 168.8 420.2 175.7 414.5 C182.7 408.7 189.6 404.2 196.6 397.2 C203.6 390.2 211.9 379.3 217.5 372.6 C223.0 365.9 226.5 361.4 230.0 357.1 C233.5 352.9 235.6 350.6 238.4 347.1 C241.1 343.6 243.9 340.0 246.7 336.2 C249.5 332.4 251.9 328.3 255.1 324.3 C258.3 320.4 261.7 315.8 265.9 312.5 C270.1 309.2 273.6 306.9 280.1 304.3 C286.7 301.7 298.2 299.0 305.2 297.0 C312.1 295.1 317.7 293.4 321.9 292.5 C326.1 291.6 323.3 293.3 330.2 291.6 C337.2 289.8 355.3 284.6 363.7 282.0 C372.0 279.4 374.8 278.3 380.4 276.1 C385.9 273.9 392.9 270.6 397.1 268.8 C401.2 267.0 402.4 267.7 405.4 265.2 C408.5 262.7 410.7 258.2 415.4 253.8 C420.2 249.4 427.7 243.1 433.8 238.8 C439.9 234.4 446.1 230.9 452.2 227.8 C458.3 224.8 464.4 223.1 470.6 220.6 C476.7 218.0 478.9 214.7 488.9 212.4 C499.0 210.0 516.8 208.6 530.7 206.4 C544.6 204.2 559.9 201.8 572.5 199.2 C585.0 196.5 597.9 192.8 605.9 190.5 C613.8 188.2 615.3 189.2 620.1 185.5 C624.8 181.9 628.3 174.2 634.3 168.7 C640.3 163.1 652.4 155.0 656.0 152.3" stroke="#4DBEEE" stroke-width="4.6"/><path d="M71.3 463.3 L71.9 461.4 L73.1 459.2 L75.2 457.9 L78.3 457.1 L80.6 457.2 L83.5 457.5 L88.0 457.3 L89.9 456.9 L92.2 456.5 L94.7 456.0 L97.3 455.4 L100.1 454.8 L102.9 454.2 L105.7 453.5 L108.3 452.9 L110.8 452.3 L113.1 451.8 L116.3 451.1 L119.0 450.7 L121.5 450.2 L124.0 449.7 L126.8 448.9 L129.9 447.8 L131.9 447.0 L134.1 446.1 L136.5 445.0 L138.9 443.9 L141.4 442.8 L143.9 441.5 L146.3 440.3 L148.7 439.1 L150.9 438.0 L153.0 436.9 L154.8 435.9 L157.6 434.2 L159.9 432.7 L161.9 431.2 L163.6 429.8 L165.4 428.3 L167.4 426.8 L169.4 425.2 L171.4 423.6 L173.4 422.0 L175.4 420.4 L177.6 418.6 L179.9 416.8 L181.7 415.3 L183.7 413.8 L185.7 412.3 L187.7 410.7 L189.8 409.0 L192.0 407.3 L194.3 405.5 L196.6 403.6 L198.3 402.1 L200.1 400.5 L202.0 398.9 L203.9 397.3 L205.8 395.6 L207.7 393.9 L209.7 392.2 L211.7 390.4 L213.6 388.7 L215.6 387.0 L217.5 385.3 L219.4 383.7 L221.3 382.1 L223.2 380.5 L225.1 378.9 L227.0 377.3 L228.9 375.7 L230.8 374.0 L232.7 372.4 L234.6 370.7 L236.5 368.9 L238.4 367.1 L240.1 365.4 L241.8 363.7 L243.6 361.9 L245.3 360.0 L247.1 358.2 L248.8 356.3 L250.5 354.4 L252.3 352.5 L254.0 350.6 L255.8 348.8 L257.5 347.0 L259.2 345.3 L261.2 343.4 L263.1 341.6 L265.0 339.7 L267.0 337.9 L269.0 336.1 L270.9 334.3 L272.8 332.5 L274.7 330.8 L276.6 329.2 L278.4 327.7 L280.1 326.2 L282.4 324.2 L284.6 322.4 L286.7 320.7 L288.7 319.1 L290.7 317.6 L292.7 316.2 L294.8 314.8 L296.8 313.4 L299.3 311.9 L301.8 310.5 L304.4 309.1 L307.0 307.9 L309.4 306.7 L311.6 305.7 L313.5 304.8" stroke="#A2142F" stroke-width="4.6"/><path d="M421.6 254.0 L423.7 253.1 L426.0 252.2 L428.4 251.2 L430.9 250.2 L433.5 249.1 L436.1 248.1 L438.8 247.0 L441.6 245.9 L444.4 244.9 L447.2 243.8 L449.4 242.9 L451.6 242.1 L453.9 241.2 L456.3 240.3 L458.7 239.4 L461.1 238.5 L463.6 237.6 L466.1 236.6 L468.7 235.7 L471.2 234.7 L473.8 233.8 L476.3 232.9 L478.9 231.9 L481.4 231.0 L484.0 230.1 L486.5 229.2 L488.9 228.3 L491.4 227.4 L493.9 226.5 L496.3 225.6 L498.8 224.7 L501.2 223.8 L503.7 222.9 L506.1 222.0 L508.6 221.1 L511.1 220.2 L513.5 219.3 L516.0 218.5 L518.4 217.6 L520.9 216.8 L523.3 216.0 L525.8 215.2 L528.3 214.5 L530.7 213.7 L533.2 213.0 L535.7 212.3 L538.2 211.7 L540.7 211.0 L543.2 210.4 L545.8 209.8 L548.3 209.1 L550.9 208.6 L553.4 208.0 L555.9 207.4 L558.3 206.9 L560.8 206.4 L563.2 205.9 L565.6 205.4 L567.9 205.0 L570.2 204.6 L572.5 204.2 L575.3 203.7 L578.1 203.3 L580.8 203.0 L583.5 202.7 L586.1 202.4 L588.7 202.2 L591.2 202.0 L593.7 201.8 L596.2 201.6 L598.6 201.3 L601.1 201.1 L603.5 200.8 L605.9 200.5 L608.8 200.1 L611.7 199.7 L614.6 199.2 L617.5 198.7 L620.4 198.2 L623.2 197.8 L625.9 197.3 L628.5 196.8 L630.9 196.3 L633.1 195.9 L635.1 195.5 L638.8 194.8 L641.7 194.1 L644.0 193.5 L645.9 192.9 L647.6 192.3 L650.8 190.9 L652.7 189.2 L653.9 186.8 L654.7 184.1 L655.5 180.6 L656.0 177.8" stroke="#A2142F" stroke-width="4.6" stroke-linecap="butt"/></g><g font-family="Liberation Serif" font-size="26.3" fill="#1a1a1a"><text transform="translate(61.75 477.85) scale(0.955 1)" text-anchor="end">10</text><text transform="translate(61.75 432.33) scale(0.955 1)" text-anchor="end">15</text><text transform="translate(61.75 386.81) scale(0.955 1)" text-anchor="end">20</text><text transform="translate(61.75 341.29) scale(0.955 1)" text-anchor="end">25</text><text transform="translate(61.75 295.77) scale(0.955 1)" text-anchor="end">30</text><text transform="translate(61.75 250.25) scale(0.955 1)" text-anchor="end">35</text><text transform="translate(61.75 204.73) scale(0.955 1)" text-anchor="end">40</text><text transform="translate(61.75 159.21) scale(0.955 1)" text-anchor="end">45</text><text transform="translate(61.75 113.69) scale(0.955 1)" text-anchor="end">50</text><text transform="translate(61.75 68.17) scale(0.955 1)" text-anchor="end">55</text><text transform="translate(61.75 22.65) scale(0.955 1)" text-anchor="end">60</text><text transform="translate(71.30 501.8) scale(0.955 1)" text-anchor="middle">0</text><text transform="translate(154.83 501.8) scale(0.955 1)" text-anchor="middle">1000</text><text transform="translate(238.36 501.8) scale(0.955 1)" text-anchor="middle">2000</text><text transform="translate(321.89 501.8) scale(0.955 1)" text-anchor="middle">3000</text><text transform="translate(405.41 501.8) scale(0.955 1)" text-anchor="middle">4000</text><text transform="translate(488.94 501.8) scale(0.955 1)" text-anchor="middle">5000</text><text transform="translate(572.47 501.8) scale(0.955 1)" text-anchor="middle">6000</text><text transform="translate(656.00 501.8) scale(0.955 1)" text-anchor="middle">7000</text></g><text transform="translate(307.3 532.8) scale(0.94 1)" font-family="Liberation Serif" font-size="23.6" fill="#1a1a1a">Number of</text><text transform="translate(412.2 532.8) scale(0.94 1)" font-family="Liberation Serif" font-size="23.6" font-style="italic" fill="#1a1a1a">p</text><text transform="translate(25.7,280.3) rotate(-90)" font-family="Liberation Serif" font-size="26.5" fill="#1a1a1a"><tspan font-style="italic">D</tspan>(mm)</text></svg></body></html>
